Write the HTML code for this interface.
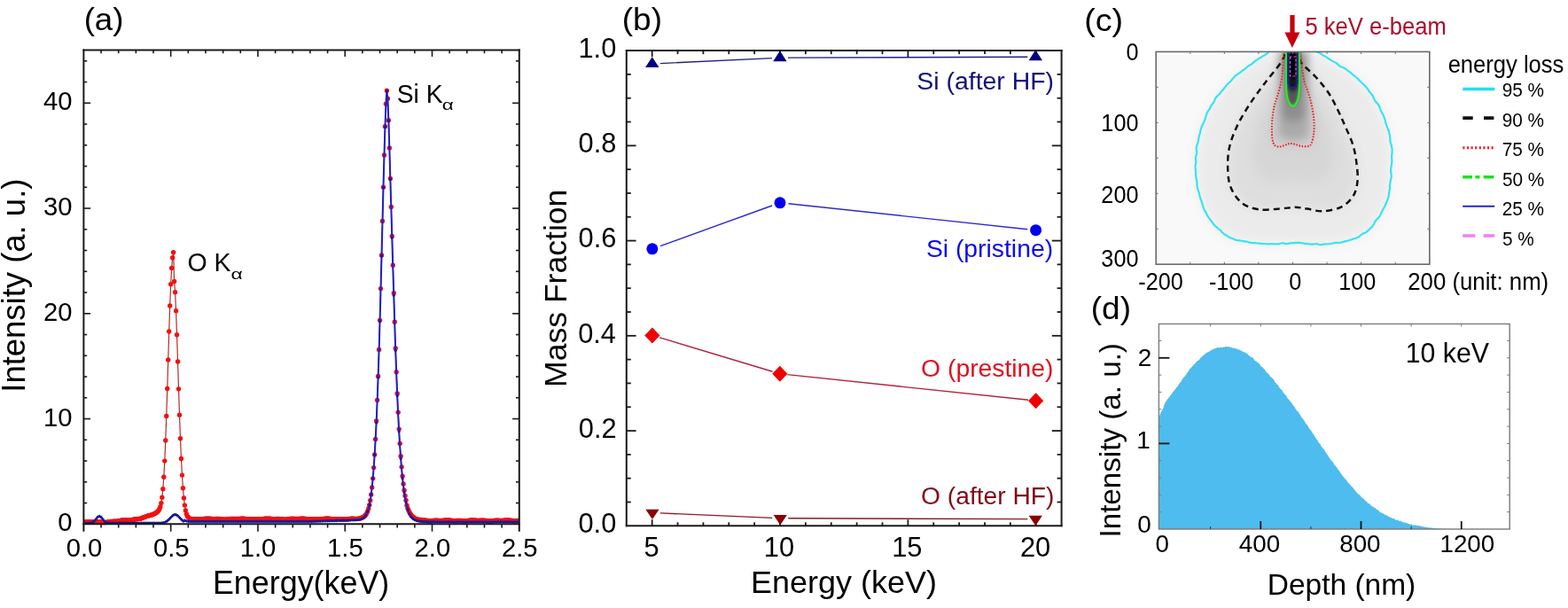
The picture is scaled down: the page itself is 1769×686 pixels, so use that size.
<!DOCTYPE html>
<html><head><meta charset="utf-8"><title>Figure</title>
<style>html,body{margin:0;padding:0;background:#fff;} svg{display:block;} text{font-family:'Liberation Sans', Arial, sans-serif;}</style></head>
<body><svg width="1769" height="686" viewBox="0 0 1769 686">
<rect width="1769" height="686" fill="#fff"/>
<defs>
<clipPath id="clipA"><rect x="94.4" y="56.4" width="491.4" height="536.9"/></clipPath>
<clipPath id="clipC"><rect x="1304.2" y="58.4" width="308.6" height="239.8"/></clipPath>
<filter id="blurC" x="-20%" y="-20%" width="140%" height="140%"><feGaussianBlur stdDeviation="7"/></filter>
<filter id="blurC2" x="-50%" y="-50%" width="200%" height="200%"><feGaussianBlur stdDeviation="2"/></filter>
<filter id="blurC3" x="-50%" y="-50%" width="200%" height="200%"><feGaussianBlur stdDeviation="5"/></filter>
</defs>
<g clip-path="url(#clipA)">
<path d="M94.4,588.92 L95.38,588.92 L96.37,588.92 L97.35,588.92 L98.33,588.92 L99.31,588.92 L100.3,588.77 L101.28,588.85 L102.26,588.95 L103.25,589.02 L104.23,589.07 L105.21,589.08 L106.19,589.05 L107.18,589 L108.16,588.93 L109.14,588.88 L110.12,588.85 L111.11,588.86 L112.09,588.92 L113.07,589.03 L114.06,589.16 L115.04,589.31 L116.02,589.44 L117,589.53 L117.99,589.57 L118.97,589.5 L119.95,589.38 L120.94,589.21 L121.92,589.01 L122.9,588.82 L123.88,588.64 L124.87,588.5 L125.85,588.4 L126.83,588.34 L127.82,588.31 L128.8,588.29 L129.78,588.26 L130.76,588.2 L131.75,588.1 L132.73,587.96 L133.71,587.78 L134.69,587.58 L135.68,587.38 L136.66,587.2 L137.64,587.06 L138.63,586.97 L139.61,586.93 L140.59,586.95 L141.57,586.99 L142.56,587.04 L143.54,587.08 L144.52,587.09 L145.51,587.04 L146.49,586.94 L147.47,586.8 L148.45,586.61 L149.44,586.41 L150.42,586.21 L151.4,586.03 L152.39,585.88 L153.37,585.76 L154.35,585.67 L155.33,585.58 L156.32,585.47 L157.3,585.33 L158.28,585.14 L159.26,584.89 L160.25,584.57 L161.23,584.2 L162.21,583.79 L163.2,583.37 L164.18,582.97 L165.16,582.58 L166.14,582.24 L167.13,581.93 L168.11,581.7 L169.09,581.49 L170.08,581.26 L171.06,580.99 L172.04,580.66 L173.02,580.27 L174.01,579.8 L174.99,579.26 L175.97,578.65 L176.96,577.94 L177.94,577.08 L178.92,575.94 L179.9,574.28 L180.89,571.7 L181.87,567.62 L182.85,561.28 L183.83,551.78 L184.82,538.28 L185.8,520.1 L186.78,497.02 L187.77,469.44 L188.75,438.51 L189.73,405.98 L190.71,374.06 L191.7,345 L192.68,320.75 L193.66,302.57 L194.65,290.82 L195.63,284.82 L196.61,317.48 L197.59,329.65 L198.58,350.69 L199.56,377.74 L200.54,407.98 L201.53,438.85 L202.51,468.27 L203.49,494.76 L204.47,517.47 L205.46,536.09 L206.44,550.76 L207.42,561.91 L208.4,570.09 L209.39,575.9 L210.37,579.9 L211.35,582.57 L212.34,583.57 L213.32,584.62 L214.3,585.23 L215.28,585.53 L216.27,585.66 L217.25,585.68 L218.23,585.67 L219.22,585.65 L220.2,585.65 L221.18,585.68 L222.16,585.74 L223.15,585.81 L224.13,585.88 L225.11,585.92 L226.1,585.93 L227.08,585.88 L228.06,585.79 L229.04,585.65 L230.03,585.5 L231.01,585.34 L231.99,585.21 L232.97,585.13 L233.96,585.1 L234.94,585.12 L235.92,585.2 L236.91,585.31 L237.89,585.42 L238.87,585.53 L239.85,585.6 L240.84,585.64 L241.82,585.63 L242.8,585.6 L243.79,585.54 L244.77,585.5 L245.75,585.47 L246.73,585.48 L247.72,585.54 L248.7,585.63 L249.68,585.76 L250.67,585.89 L251.65,586.01 L252.63,586.1 L253.61,586.13 L254.6,586.11 L255.58,586.03 L256.56,585.91 L257.54,585.76 L258.53,585.62 L259.51,585.49 L260.49,585.41 L261.48,585.37 L262.46,585.38 L263.44,585.42 L264.42,585.48 L265.41,585.53 L266.39,585.57 L267.37,585.57 L268.36,585.53 L269.34,585.46 L270.32,585.36 L271.3,585.27 L272.29,585.19 L273.27,585.16 L274.25,585.17 L275.24,585.24 L276.22,585.36 L277.2,585.51 L278.18,585.67 L279.17,585.82 L280.15,585.94 L281.13,586 L282.11,586.02 L283.1,585.98 L284.08,585.91 L285.06,585.82 L286.05,585.73 L287.03,585.67 L288.01,585.65 L288.99,585.66 L289.98,585.7 L290.96,585.77 L291.94,585.83 L292.93,585.87 L293.91,585.87 L294.89,585.82 L295.87,585.73 L296.86,585.6 L297.84,585.45 L298.82,585.3 L299.81,585.18 L300.79,585.1 L301.77,585.08 L302.75,585.11 L303.74,585.2 L304.72,585.31 L305.7,585.44 L306.68,585.56 L307.67,585.64 L308.65,585.69 L309.63,585.69 L310.62,585.66 L311.6,585.61 L312.58,585.56 L313.56,585.53 L314.55,585.53 L315.53,585.58 L316.51,585.67 L317.5,585.78 L318.48,585.9 L319.46,586.02 L320.44,586.09 L321.43,586.12 L322.41,586.09 L323.39,586 L324.38,585.87 L325.36,585.72 L326.34,585.57 L327.32,585.44 L328.31,585.35 L329.29,585.31 L330.27,585.32 L331.25,585.36 L332.24,585.43 L333.22,585.49 L334.2,585.54 L335.19,585.55 L336.17,585.52 L337.15,585.46 L338.13,585.38 L339.12,585.29 L340.1,585.23 L341.08,585.2 L342.07,585.22 L343.05,585.29 L344.03,585.41 L345.01,585.56 L346,585.73 L346.98,585.87 L347.96,585.99 L348.95,586.05 L349.93,586.06 L350.91,586.01 L351.89,585.93 L352.88,585.83 L353.86,585.73 L354.84,585.66 L355.82,585.62 L356.81,585.62 L357.79,585.66 L358.77,585.71 L359.76,585.77 L360.74,585.81 L361.72,585.81 L362.7,585.77 L363.69,585.68 L364.67,585.55 L365.65,585.41 L366.64,585.27 L367.62,585.15 L368.6,585.08 L369.58,585.07 L370.57,585.11 L371.55,585.21 L372.53,585.33 L373.52,585.47 L374.5,585.59 L375.48,585.69 L376.46,585.74 L377.45,585.75 L378.43,585.72 L379.41,585.67 L380.39,585.62 L381.38,585.58 L382.36,585.58 L383.34,585.62 L384.33,585.69 L385.31,585.8 L386.29,585.91 L387.27,586.01 L388.26,586.07 L389.24,586.09 L390.22,586.05 L391.21,585.96 L392.19,585.82 L393.17,585.67 L394.15,585.51 L395.14,585.38 L396.12,585.28 L397.1,585.24 L398.09,585.24 L399.07,585.28 L400.05,585.34 L401.03,585.39 L402.02,585.41 L403,585.39 L403.98,585.3 L404.96,585.15 L405.95,584.93 L406.93,584.65 L407.91,584.3 L408.9,583.88 L409.88,583.35 L410.86,582.67 L411.84,581.76 L412.83,580.55 L413.81,578.89 L414.79,576.65 L415.78,573.64 L416.76,569.69 L417.74,564.58 L418.72,558.07 L419.71,549.92 L420.69,539.86 L421.67,527.61 L422.66,512.9 L423.64,495.44 L424.62,475.01 L425.6,451.41 L426.59,424.54 L427.57,394.45 L428.55,361.34 L429.53,325.62 L430.52,287.98 L431.5,249.4 L432.48,211.17 L433.47,174.96 L434.45,142.8 L435.43,117.3 L436.41,102.26 L437.4,111.24 L438.38,135.8 L439.36,166.9 L440.35,201.48 L441.33,233.57 L442.31,266.55 L443.29,299.26 L444.28,330.82 L445.26,363.19 L446.24,392.9 L447.23,419.8 L448.21,443.91 L449.19,465.29 L450.17,484.09 L451.16,500.48 L452.14,514.66 L453.12,526.84 L454.1,537.22 L455.09,545.98 L456.07,553.3 L457.05,559.37 L458.04,564.34 L459.02,570.15 L460,573.4 L460.98,576 L461.97,578.08 L462.95,579.76 L463.93,581.13 L464.92,582.26 L465.9,583.21 L466.88,584.02 L467.86,584.69 L468.85,585.25 L469.83,585.7 L470.81,586.04 L471.8,586.27 L472.78,586.43 L473.76,586.52 L474.74,586.57 L475.73,586.61 L476.71,586.67 L477.69,586.76 L478.67,586.89 L479.66,587.05 L480.64,587.23 L481.62,587.41 L482.61,587.57 L483.59,587.7 L484.57,587.76 L485.55,587.77 L486.54,587.72 L487.52,587.63 L488.5,587.52 L489.49,587.41 L490.47,587.32 L491.45,587.27 L492.43,587.26 L493.42,587.28 L494.4,587.33 L495.38,587.39 L496.37,587.43 L497.35,587.44 L498.33,587.42 L499.31,587.35 L500.3,587.24 L501.28,587.12 L502.26,587 L503.24,586.9 L504.23,586.85 L505.21,586.86 L506.19,586.92 L507.18,587.03 L508.16,587.17 L509.14,587.33 L510.12,587.47 L511.11,587.57 L512.09,587.64 L513.07,587.65 L514.06,587.62 L515.04,587.56 L516.02,587.5 L517,587.45 L517.99,587.42 L518.97,587.44 L519.95,587.49 L520.94,587.57 L521.92,587.66 L522.9,587.74 L523.88,587.79 L524.87,587.79 L525.85,587.74 L526.83,587.64 L527.81,587.5 L528.8,587.34 L529.78,587.19 L530.76,587.05 L531.75,586.97 L532.73,586.93 L533.71,586.96 L534.69,587.02 L535.68,587.11 L536.66,587.21 L537.64,587.29 L538.63,587.34 L539.61,587.35 L540.59,587.33 L541.57,587.28 L542.56,587.22 L543.54,587.17 L544.52,587.15 L545.51,587.17 L546.49,587.24 L547.47,587.35 L548.45,587.5 L549.44,587.64 L550.42,587.77 L551.4,587.87 L552.38,587.91 L553.37,587.89 L554.35,587.82 L555.33,587.71 L556.32,587.58 L557.3,587.45 L558.28,587.34 L559.26,587.28 L560.25,587.25 L561.23,587.27 L562.21,587.31 L563.2,587.36 L564.18,587.4 L565.16,587.42 L566.14,587.4 L567.13,587.33 L568.11,587.24 L569.09,587.12 L570.08,587.01 L571.06,586.93 L572.04,586.88 L573.02,586.89 L574.01,586.96 L574.99,587.08 L575.97,587.23 L576.95,587.38 L577.94,587.53 L578.92,587.64 L579.9,587.7 L580.89,587.71 L581.87,587.68 L582.85,587.62 L583.83,587.54 L584.82,587.48 L585.8,587.44" fill="none" stroke="#b32a2a" stroke-width="1.2"/>
<g fill="#f21010"><circle cx="94.4" cy="588.92" r="2.7"/><circle cx="95.38" cy="588.92" r="2.7"/><circle cx="96.37" cy="588.92" r="2.7"/><circle cx="97.35" cy="588.92" r="2.7"/><circle cx="98.33" cy="588.92" r="2.7"/><circle cx="99.31" cy="588.92" r="2.7"/><circle cx="100.3" cy="588.77" r="2.7"/><circle cx="101.28" cy="588.85" r="2.7"/><circle cx="102.26" cy="588.95" r="2.7"/><circle cx="103.25" cy="589.02" r="2.7"/><circle cx="104.23" cy="589.07" r="2.7"/><circle cx="105.21" cy="589.08" r="2.7"/><circle cx="106.19" cy="589.05" r="2.7"/><circle cx="107.18" cy="589" r="2.7"/><circle cx="108.16" cy="588.93" r="2.7"/><circle cx="109.14" cy="588.88" r="2.7"/><circle cx="110.12" cy="588.85" r="2.7"/><circle cx="111.11" cy="588.86" r="2.7"/><circle cx="112.09" cy="588.92" r="2.7"/><circle cx="113.07" cy="589.03" r="2.7"/><circle cx="114.06" cy="589.16" r="2.7"/><circle cx="115.04" cy="589.31" r="2.7"/><circle cx="116.02" cy="589.44" r="2.7"/><circle cx="117" cy="589.53" r="2.7"/><circle cx="117.99" cy="589.57" r="2.7"/><circle cx="118.97" cy="589.5" r="2.7"/><circle cx="119.95" cy="589.38" r="2.7"/><circle cx="120.94" cy="589.21" r="2.7"/><circle cx="121.92" cy="589.01" r="2.7"/><circle cx="122.9" cy="588.82" r="2.7"/><circle cx="123.88" cy="588.64" r="2.7"/><circle cx="124.87" cy="588.5" r="2.7"/><circle cx="125.85" cy="588.4" r="2.7"/><circle cx="126.83" cy="588.34" r="2.7"/><circle cx="127.82" cy="588.31" r="2.7"/><circle cx="128.8" cy="588.29" r="2.7"/><circle cx="129.78" cy="588.26" r="2.7"/><circle cx="130.76" cy="588.2" r="2.7"/><circle cx="131.75" cy="588.1" r="2.7"/><circle cx="132.73" cy="587.96" r="2.7"/><circle cx="133.71" cy="587.78" r="2.7"/><circle cx="134.69" cy="587.58" r="2.7"/><circle cx="135.68" cy="587.38" r="2.7"/><circle cx="136.66" cy="587.2" r="2.7"/><circle cx="137.64" cy="587.06" r="2.7"/><circle cx="138.63" cy="586.97" r="2.7"/><circle cx="139.61" cy="586.93" r="2.7"/><circle cx="140.59" cy="586.95" r="2.7"/><circle cx="141.57" cy="586.99" r="2.7"/><circle cx="142.56" cy="587.04" r="2.7"/><circle cx="143.54" cy="587.08" r="2.7"/><circle cx="144.52" cy="587.09" r="2.7"/><circle cx="145.51" cy="587.04" r="2.7"/><circle cx="146.49" cy="586.94" r="2.7"/><circle cx="147.47" cy="586.8" r="2.7"/><circle cx="148.45" cy="586.61" r="2.7"/><circle cx="149.44" cy="586.41" r="2.7"/><circle cx="150.42" cy="586.21" r="2.7"/><circle cx="151.4" cy="586.03" r="2.7"/><circle cx="152.39" cy="585.88" r="2.7"/><circle cx="153.37" cy="585.76" r="2.7"/><circle cx="154.35" cy="585.67" r="2.7"/><circle cx="155.33" cy="585.58" r="2.7"/><circle cx="156.32" cy="585.47" r="2.7"/><circle cx="157.3" cy="585.33" r="2.7"/><circle cx="158.28" cy="585.14" r="2.7"/><circle cx="159.26" cy="584.89" r="2.7"/><circle cx="160.25" cy="584.57" r="2.7"/><circle cx="161.23" cy="584.2" r="2.7"/><circle cx="162.21" cy="583.79" r="2.7"/><circle cx="163.2" cy="583.37" r="2.7"/><circle cx="164.18" cy="582.97" r="2.7"/><circle cx="165.16" cy="582.58" r="2.7"/><circle cx="166.14" cy="582.24" r="2.7"/><circle cx="167.13" cy="581.93" r="2.7"/><circle cx="168.11" cy="581.7" r="2.7"/><circle cx="169.09" cy="581.49" r="2.7"/><circle cx="170.08" cy="581.26" r="2.7"/><circle cx="171.06" cy="580.99" r="2.7"/><circle cx="172.04" cy="580.66" r="2.7"/><circle cx="173.02" cy="580.27" r="2.7"/><circle cx="174.01" cy="579.8" r="2.7"/><circle cx="174.99" cy="579.26" r="2.7"/><circle cx="175.97" cy="578.65" r="2.7"/><circle cx="176.96" cy="577.94" r="2.7"/><circle cx="177.94" cy="577.08" r="2.7"/><circle cx="178.92" cy="575.94" r="2.7"/><circle cx="179.9" cy="574.28" r="2.7"/><circle cx="180.89" cy="571.7" r="2.7"/><circle cx="181.87" cy="567.62" r="2.7"/><circle cx="182.85" cy="561.28" r="2.7"/><circle cx="183.83" cy="551.78" r="2.7"/><circle cx="184.82" cy="538.28" r="2.7"/><circle cx="185.8" cy="520.1" r="2.7"/><circle cx="186.78" cy="497.02" r="2.7"/><circle cx="187.77" cy="469.44" r="2.7"/><circle cx="188.75" cy="438.51" r="2.7"/><circle cx="189.73" cy="405.98" r="2.7"/><circle cx="190.71" cy="374.06" r="2.7"/><circle cx="191.7" cy="345" r="2.7"/><circle cx="192.68" cy="320.75" r="2.7"/><circle cx="193.66" cy="302.57" r="2.7"/><circle cx="194.65" cy="290.82" r="2.7"/><circle cx="195.63" cy="284.82" r="2.7"/><circle cx="196.61" cy="317.48" r="2.7"/><circle cx="197.59" cy="329.65" r="2.7"/><circle cx="198.58" cy="350.69" r="2.7"/><circle cx="199.56" cy="377.74" r="2.7"/><circle cx="200.54" cy="407.98" r="2.7"/><circle cx="201.53" cy="438.85" r="2.7"/><circle cx="202.51" cy="468.27" r="2.7"/><circle cx="203.49" cy="494.76" r="2.7"/><circle cx="204.47" cy="517.47" r="2.7"/><circle cx="205.46" cy="536.09" r="2.7"/><circle cx="206.44" cy="550.76" r="2.7"/><circle cx="207.42" cy="561.91" r="2.7"/><circle cx="208.4" cy="570.09" r="2.7"/><circle cx="209.39" cy="575.9" r="2.7"/><circle cx="210.37" cy="579.9" r="2.7"/><circle cx="211.35" cy="582.57" r="2.7"/><circle cx="212.34" cy="583.57" r="2.7"/><circle cx="213.32" cy="584.62" r="2.7"/><circle cx="214.3" cy="585.23" r="2.7"/><circle cx="215.28" cy="585.53" r="2.7"/><circle cx="216.27" cy="585.66" r="2.7"/><circle cx="217.25" cy="585.68" r="2.7"/><circle cx="218.23" cy="585.67" r="2.7"/><circle cx="219.22" cy="585.65" r="2.7"/><circle cx="220.2" cy="585.65" r="2.7"/><circle cx="221.18" cy="585.68" r="2.7"/><circle cx="222.16" cy="585.74" r="2.7"/><circle cx="223.15" cy="585.81" r="2.7"/><circle cx="224.13" cy="585.88" r="2.7"/><circle cx="225.11" cy="585.92" r="2.7"/><circle cx="226.1" cy="585.93" r="2.7"/><circle cx="227.08" cy="585.88" r="2.7"/><circle cx="228.06" cy="585.79" r="2.7"/><circle cx="229.04" cy="585.65" r="2.7"/><circle cx="230.03" cy="585.5" r="2.7"/><circle cx="231.01" cy="585.34" r="2.7"/><circle cx="231.99" cy="585.21" r="2.7"/><circle cx="232.97" cy="585.13" r="2.7"/><circle cx="233.96" cy="585.1" r="2.7"/><circle cx="234.94" cy="585.12" r="2.7"/><circle cx="235.92" cy="585.2" r="2.7"/><circle cx="236.91" cy="585.31" r="2.7"/><circle cx="237.89" cy="585.42" r="2.7"/><circle cx="238.87" cy="585.53" r="2.7"/><circle cx="239.85" cy="585.6" r="2.7"/><circle cx="240.84" cy="585.64" r="2.7"/><circle cx="241.82" cy="585.63" r="2.7"/><circle cx="242.8" cy="585.6" r="2.7"/><circle cx="243.79" cy="585.54" r="2.7"/><circle cx="244.77" cy="585.5" r="2.7"/><circle cx="245.75" cy="585.47" r="2.7"/><circle cx="246.73" cy="585.48" r="2.7"/><circle cx="247.72" cy="585.54" r="2.7"/><circle cx="248.7" cy="585.63" r="2.7"/><circle cx="249.68" cy="585.76" r="2.7"/><circle cx="250.67" cy="585.89" r="2.7"/><circle cx="251.65" cy="586.01" r="2.7"/><circle cx="252.63" cy="586.1" r="2.7"/><circle cx="253.61" cy="586.13" r="2.7"/><circle cx="254.6" cy="586.11" r="2.7"/><circle cx="255.58" cy="586.03" r="2.7"/><circle cx="256.56" cy="585.91" r="2.7"/><circle cx="257.54" cy="585.76" r="2.7"/><circle cx="258.53" cy="585.62" r="2.7"/><circle cx="259.51" cy="585.49" r="2.7"/><circle cx="260.49" cy="585.41" r="2.7"/><circle cx="261.48" cy="585.37" r="2.7"/><circle cx="262.46" cy="585.38" r="2.7"/><circle cx="263.44" cy="585.42" r="2.7"/><circle cx="264.42" cy="585.48" r="2.7"/><circle cx="265.41" cy="585.53" r="2.7"/><circle cx="266.39" cy="585.57" r="2.7"/><circle cx="267.37" cy="585.57" r="2.7"/><circle cx="268.36" cy="585.53" r="2.7"/><circle cx="269.34" cy="585.46" r="2.7"/><circle cx="270.32" cy="585.36" r="2.7"/><circle cx="271.3" cy="585.27" r="2.7"/><circle cx="272.29" cy="585.19" r="2.7"/><circle cx="273.27" cy="585.16" r="2.7"/><circle cx="274.25" cy="585.17" r="2.7"/><circle cx="275.24" cy="585.24" r="2.7"/><circle cx="276.22" cy="585.36" r="2.7"/><circle cx="277.2" cy="585.51" r="2.7"/><circle cx="278.18" cy="585.67" r="2.7"/><circle cx="279.17" cy="585.82" r="2.7"/><circle cx="280.15" cy="585.94" r="2.7"/><circle cx="281.13" cy="586" r="2.7"/><circle cx="282.11" cy="586.02" r="2.7"/><circle cx="283.1" cy="585.98" r="2.7"/><circle cx="284.08" cy="585.91" r="2.7"/><circle cx="285.06" cy="585.82" r="2.7"/><circle cx="286.05" cy="585.73" r="2.7"/><circle cx="287.03" cy="585.67" r="2.7"/><circle cx="288.01" cy="585.65" r="2.7"/><circle cx="288.99" cy="585.66" r="2.7"/><circle cx="289.98" cy="585.7" r="2.7"/><circle cx="290.96" cy="585.77" r="2.7"/><circle cx="291.94" cy="585.83" r="2.7"/><circle cx="292.93" cy="585.87" r="2.7"/><circle cx="293.91" cy="585.87" r="2.7"/><circle cx="294.89" cy="585.82" r="2.7"/><circle cx="295.87" cy="585.73" r="2.7"/><circle cx="296.86" cy="585.6" r="2.7"/><circle cx="297.84" cy="585.45" r="2.7"/><circle cx="298.82" cy="585.3" r="2.7"/><circle cx="299.81" cy="585.18" r="2.7"/><circle cx="300.79" cy="585.1" r="2.7"/><circle cx="301.77" cy="585.08" r="2.7"/><circle cx="302.75" cy="585.11" r="2.7"/><circle cx="303.74" cy="585.2" r="2.7"/><circle cx="304.72" cy="585.31" r="2.7"/><circle cx="305.7" cy="585.44" r="2.7"/><circle cx="306.68" cy="585.56" r="2.7"/><circle cx="307.67" cy="585.64" r="2.7"/><circle cx="308.65" cy="585.69" r="2.7"/><circle cx="309.63" cy="585.69" r="2.7"/><circle cx="310.62" cy="585.66" r="2.7"/><circle cx="311.6" cy="585.61" r="2.7"/><circle cx="312.58" cy="585.56" r="2.7"/><circle cx="313.56" cy="585.53" r="2.7"/><circle cx="314.55" cy="585.53" r="2.7"/><circle cx="315.53" cy="585.58" r="2.7"/><circle cx="316.51" cy="585.67" r="2.7"/><circle cx="317.5" cy="585.78" r="2.7"/><circle cx="318.48" cy="585.9" r="2.7"/><circle cx="319.46" cy="586.02" r="2.7"/><circle cx="320.44" cy="586.09" r="2.7"/><circle cx="321.43" cy="586.12" r="2.7"/><circle cx="322.41" cy="586.09" r="2.7"/><circle cx="323.39" cy="586" r="2.7"/><circle cx="324.38" cy="585.87" r="2.7"/><circle cx="325.36" cy="585.72" r="2.7"/><circle cx="326.34" cy="585.57" r="2.7"/><circle cx="327.32" cy="585.44" r="2.7"/><circle cx="328.31" cy="585.35" r="2.7"/><circle cx="329.29" cy="585.31" r="2.7"/><circle cx="330.27" cy="585.32" r="2.7"/><circle cx="331.25" cy="585.36" r="2.7"/><circle cx="332.24" cy="585.43" r="2.7"/><circle cx="333.22" cy="585.49" r="2.7"/><circle cx="334.2" cy="585.54" r="2.7"/><circle cx="335.19" cy="585.55" r="2.7"/><circle cx="336.17" cy="585.52" r="2.7"/><circle cx="337.15" cy="585.46" r="2.7"/><circle cx="338.13" cy="585.38" r="2.7"/><circle cx="339.12" cy="585.29" r="2.7"/><circle cx="340.1" cy="585.23" r="2.7"/><circle cx="341.08" cy="585.2" r="2.7"/><circle cx="342.07" cy="585.22" r="2.7"/><circle cx="343.05" cy="585.29" r="2.7"/><circle cx="344.03" cy="585.41" r="2.7"/><circle cx="345.01" cy="585.56" r="2.7"/><circle cx="346" cy="585.73" r="2.7"/><circle cx="346.98" cy="585.87" r="2.7"/><circle cx="347.96" cy="585.99" r="2.7"/><circle cx="348.95" cy="586.05" r="2.7"/><circle cx="349.93" cy="586.06" r="2.7"/><circle cx="350.91" cy="586.01" r="2.7"/><circle cx="351.89" cy="585.93" r="2.7"/><circle cx="352.88" cy="585.83" r="2.7"/><circle cx="353.86" cy="585.73" r="2.7"/><circle cx="354.84" cy="585.66" r="2.7"/><circle cx="355.82" cy="585.62" r="2.7"/><circle cx="356.81" cy="585.62" r="2.7"/><circle cx="357.79" cy="585.66" r="2.7"/><circle cx="358.77" cy="585.71" r="2.7"/><circle cx="359.76" cy="585.77" r="2.7"/><circle cx="360.74" cy="585.81" r="2.7"/><circle cx="361.72" cy="585.81" r="2.7"/><circle cx="362.7" cy="585.77" r="2.7"/><circle cx="363.69" cy="585.68" r="2.7"/><circle cx="364.67" cy="585.55" r="2.7"/><circle cx="365.65" cy="585.41" r="2.7"/><circle cx="366.64" cy="585.27" r="2.7"/><circle cx="367.62" cy="585.15" r="2.7"/><circle cx="368.6" cy="585.08" r="2.7"/><circle cx="369.58" cy="585.07" r="2.7"/><circle cx="370.57" cy="585.11" r="2.7"/><circle cx="371.55" cy="585.21" r="2.7"/><circle cx="372.53" cy="585.33" r="2.7"/><circle cx="373.52" cy="585.47" r="2.7"/><circle cx="374.5" cy="585.59" r="2.7"/><circle cx="375.48" cy="585.69" r="2.7"/><circle cx="376.46" cy="585.74" r="2.7"/><circle cx="377.45" cy="585.75" r="2.7"/><circle cx="378.43" cy="585.72" r="2.7"/><circle cx="379.41" cy="585.67" r="2.7"/><circle cx="380.39" cy="585.62" r="2.7"/><circle cx="381.38" cy="585.58" r="2.7"/><circle cx="382.36" cy="585.58" r="2.7"/><circle cx="383.34" cy="585.62" r="2.7"/><circle cx="384.33" cy="585.69" r="2.7"/><circle cx="385.31" cy="585.8" r="2.7"/><circle cx="386.29" cy="585.91" r="2.7"/><circle cx="387.27" cy="586.01" r="2.7"/><circle cx="388.26" cy="586.07" r="2.7"/><circle cx="389.24" cy="586.09" r="2.7"/><circle cx="390.22" cy="586.05" r="2.7"/><circle cx="391.21" cy="585.96" r="2.7"/><circle cx="392.19" cy="585.82" r="2.7"/><circle cx="393.17" cy="585.67" r="2.7"/><circle cx="394.15" cy="585.51" r="2.7"/><circle cx="395.14" cy="585.38" r="2.7"/><circle cx="396.12" cy="585.28" r="2.7"/><circle cx="397.1" cy="585.24" r="2.7"/><circle cx="398.09" cy="585.24" r="2.7"/><circle cx="399.07" cy="585.28" r="2.7"/><circle cx="400.05" cy="585.34" r="2.7"/><circle cx="401.03" cy="585.39" r="2.7"/><circle cx="402.02" cy="585.41" r="2.7"/><circle cx="403" cy="585.39" r="2.7"/><circle cx="403.98" cy="585.3" r="2.7"/><circle cx="404.96" cy="585.15" r="2.7"/><circle cx="405.95" cy="584.93" r="2.7"/><circle cx="406.93" cy="584.65" r="2.7"/><circle cx="407.91" cy="584.3" r="2.7"/><circle cx="408.9" cy="583.88" r="2.7"/><circle cx="409.88" cy="583.35" r="2.7"/><circle cx="410.86" cy="582.67" r="2.7"/><circle cx="411.84" cy="581.76" r="2.7"/><circle cx="412.83" cy="580.55" r="2.7"/><circle cx="413.81" cy="578.89" r="2.7"/><circle cx="414.79" cy="576.65" r="2.7"/><circle cx="415.78" cy="573.64" r="2.7"/><circle cx="416.76" cy="569.69" r="2.7"/><circle cx="417.74" cy="564.58" r="2.7"/><circle cx="418.72" cy="558.07" r="2.7"/><circle cx="419.71" cy="549.92" r="2.7"/><circle cx="420.69" cy="539.86" r="2.7"/><circle cx="421.67" cy="527.61" r="2.7"/><circle cx="422.66" cy="512.9" r="2.7"/><circle cx="423.64" cy="495.44" r="2.7"/><circle cx="424.62" cy="475.01" r="2.7"/><circle cx="425.6" cy="451.41" r="2.7"/><circle cx="426.59" cy="424.54" r="2.7"/><circle cx="427.57" cy="394.45" r="2.7"/><circle cx="428.55" cy="361.34" r="2.7"/><circle cx="429.53" cy="325.62" r="2.7"/><circle cx="430.52" cy="287.98" r="2.7"/><circle cx="431.5" cy="249.4" r="2.7"/><circle cx="432.48" cy="211.17" r="2.7"/><circle cx="433.47" cy="174.96" r="2.7"/><circle cx="434.45" cy="142.8" r="2.7"/><circle cx="435.43" cy="117.3" r="2.7"/><circle cx="436.41" cy="102.26" r="2.7"/><circle cx="437.4" cy="111.24" r="2.7"/><circle cx="438.38" cy="135.8" r="2.7"/><circle cx="439.36" cy="166.9" r="2.7"/><circle cx="440.35" cy="201.48" r="2.7"/><circle cx="441.33" cy="233.57" r="2.7"/><circle cx="442.31" cy="266.55" r="2.7"/><circle cx="443.29" cy="299.26" r="2.7"/><circle cx="444.28" cy="330.82" r="2.7"/><circle cx="445.26" cy="363.19" r="2.7"/><circle cx="446.24" cy="392.9" r="2.7"/><circle cx="447.23" cy="419.8" r="2.7"/><circle cx="448.21" cy="443.91" r="2.7"/><circle cx="449.19" cy="465.29" r="2.7"/><circle cx="450.17" cy="484.09" r="2.7"/><circle cx="451.16" cy="500.48" r="2.7"/><circle cx="452.14" cy="514.66" r="2.7"/><circle cx="453.12" cy="526.84" r="2.7"/><circle cx="454.1" cy="537.22" r="2.7"/><circle cx="455.09" cy="545.98" r="2.7"/><circle cx="456.07" cy="553.3" r="2.7"/><circle cx="457.05" cy="559.37" r="2.7"/><circle cx="458.04" cy="564.34" r="2.7"/><circle cx="459.02" cy="570.15" r="2.7"/><circle cx="460" cy="573.4" r="2.7"/><circle cx="460.98" cy="576" r="2.7"/><circle cx="461.97" cy="578.08" r="2.7"/><circle cx="462.95" cy="579.76" r="2.7"/><circle cx="463.93" cy="581.13" r="2.7"/><circle cx="464.92" cy="582.26" r="2.7"/><circle cx="465.9" cy="583.21" r="2.7"/><circle cx="466.88" cy="584.02" r="2.7"/><circle cx="467.86" cy="584.69" r="2.7"/><circle cx="468.85" cy="585.25" r="2.7"/><circle cx="469.83" cy="585.7" r="2.7"/><circle cx="470.81" cy="586.04" r="2.7"/><circle cx="471.8" cy="586.27" r="2.7"/><circle cx="472.78" cy="586.43" r="2.7"/><circle cx="473.76" cy="586.52" r="2.7"/><circle cx="474.74" cy="586.57" r="2.7"/><circle cx="475.73" cy="586.61" r="2.7"/><circle cx="476.71" cy="586.67" r="2.7"/><circle cx="477.69" cy="586.76" r="2.7"/><circle cx="478.67" cy="586.89" r="2.7"/><circle cx="479.66" cy="587.05" r="2.7"/><circle cx="480.64" cy="587.23" r="2.7"/><circle cx="481.62" cy="587.41" r="2.7"/><circle cx="482.61" cy="587.57" r="2.7"/><circle cx="483.59" cy="587.7" r="2.7"/><circle cx="484.57" cy="587.76" r="2.7"/><circle cx="485.55" cy="587.77" r="2.7"/><circle cx="486.54" cy="587.72" r="2.7"/><circle cx="487.52" cy="587.63" r="2.7"/><circle cx="488.5" cy="587.52" r="2.7"/><circle cx="489.49" cy="587.41" r="2.7"/><circle cx="490.47" cy="587.32" r="2.7"/><circle cx="491.45" cy="587.27" r="2.7"/><circle cx="492.43" cy="587.26" r="2.7"/><circle cx="493.42" cy="587.28" r="2.7"/><circle cx="494.4" cy="587.33" r="2.7"/><circle cx="495.38" cy="587.39" r="2.7"/><circle cx="496.37" cy="587.43" r="2.7"/><circle cx="497.35" cy="587.44" r="2.7"/><circle cx="498.33" cy="587.42" r="2.7"/><circle cx="499.31" cy="587.35" r="2.7"/><circle cx="500.3" cy="587.24" r="2.7"/><circle cx="501.28" cy="587.12" r="2.7"/><circle cx="502.26" cy="587" r="2.7"/><circle cx="503.24" cy="586.9" r="2.7"/><circle cx="504.23" cy="586.85" r="2.7"/><circle cx="505.21" cy="586.86" r="2.7"/><circle cx="506.19" cy="586.92" r="2.7"/><circle cx="507.18" cy="587.03" r="2.7"/><circle cx="508.16" cy="587.17" r="2.7"/><circle cx="509.14" cy="587.33" r="2.7"/><circle cx="510.12" cy="587.47" r="2.7"/><circle cx="511.11" cy="587.57" r="2.7"/><circle cx="512.09" cy="587.64" r="2.7"/><circle cx="513.07" cy="587.65" r="2.7"/><circle cx="514.06" cy="587.62" r="2.7"/><circle cx="515.04" cy="587.56" r="2.7"/><circle cx="516.02" cy="587.5" r="2.7"/><circle cx="517" cy="587.45" r="2.7"/><circle cx="517.99" cy="587.42" r="2.7"/><circle cx="518.97" cy="587.44" r="2.7"/><circle cx="519.95" cy="587.49" r="2.7"/><circle cx="520.94" cy="587.57" r="2.7"/><circle cx="521.92" cy="587.66" r="2.7"/><circle cx="522.9" cy="587.74" r="2.7"/><circle cx="523.88" cy="587.79" r="2.7"/><circle cx="524.87" cy="587.79" r="2.7"/><circle cx="525.85" cy="587.74" r="2.7"/><circle cx="526.83" cy="587.64" r="2.7"/><circle cx="527.81" cy="587.5" r="2.7"/><circle cx="528.8" cy="587.34" r="2.7"/><circle cx="529.78" cy="587.19" r="2.7"/><circle cx="530.76" cy="587.05" r="2.7"/><circle cx="531.75" cy="586.97" r="2.7"/><circle cx="532.73" cy="586.93" r="2.7"/><circle cx="533.71" cy="586.96" r="2.7"/><circle cx="534.69" cy="587.02" r="2.7"/><circle cx="535.68" cy="587.11" r="2.7"/><circle cx="536.66" cy="587.21" r="2.7"/><circle cx="537.64" cy="587.29" r="2.7"/><circle cx="538.63" cy="587.34" r="2.7"/><circle cx="539.61" cy="587.35" r="2.7"/><circle cx="540.59" cy="587.33" r="2.7"/><circle cx="541.57" cy="587.28" r="2.7"/><circle cx="542.56" cy="587.22" r="2.7"/><circle cx="543.54" cy="587.17" r="2.7"/><circle cx="544.52" cy="587.15" r="2.7"/><circle cx="545.51" cy="587.17" r="2.7"/><circle cx="546.49" cy="587.24" r="2.7"/><circle cx="547.47" cy="587.35" r="2.7"/><circle cx="548.45" cy="587.5" r="2.7"/><circle cx="549.44" cy="587.64" r="2.7"/><circle cx="550.42" cy="587.77" r="2.7"/><circle cx="551.4" cy="587.87" r="2.7"/><circle cx="552.38" cy="587.91" r="2.7"/><circle cx="553.37" cy="587.89" r="2.7"/><circle cx="554.35" cy="587.82" r="2.7"/><circle cx="555.33" cy="587.71" r="2.7"/><circle cx="556.32" cy="587.58" r="2.7"/><circle cx="557.3" cy="587.45" r="2.7"/><circle cx="558.28" cy="587.34" r="2.7"/><circle cx="559.26" cy="587.28" r="2.7"/><circle cx="560.25" cy="587.25" r="2.7"/><circle cx="561.23" cy="587.27" r="2.7"/><circle cx="562.21" cy="587.31" r="2.7"/><circle cx="563.2" cy="587.36" r="2.7"/><circle cx="564.18" cy="587.4" r="2.7"/><circle cx="565.16" cy="587.42" r="2.7"/><circle cx="566.14" cy="587.4" r="2.7"/><circle cx="567.13" cy="587.33" r="2.7"/><circle cx="568.11" cy="587.24" r="2.7"/><circle cx="569.09" cy="587.12" r="2.7"/><circle cx="570.08" cy="587.01" r="2.7"/><circle cx="571.06" cy="586.93" r="2.7"/><circle cx="572.04" cy="586.88" r="2.7"/><circle cx="573.02" cy="586.89" r="2.7"/><circle cx="574.01" cy="586.96" r="2.7"/><circle cx="574.99" cy="587.08" r="2.7"/><circle cx="575.97" cy="587.23" r="2.7"/><circle cx="576.95" cy="587.38" r="2.7"/><circle cx="577.94" cy="587.53" r="2.7"/><circle cx="578.92" cy="587.64" r="2.7"/><circle cx="579.9" cy="587.7" r="2.7"/><circle cx="580.89" cy="587.71" r="2.7"/><circle cx="581.87" cy="587.68" r="2.7"/><circle cx="582.85" cy="587.62" r="2.7"/><circle cx="583.83" cy="587.54" r="2.7"/><circle cx="584.82" cy="587.48" r="2.7"/><circle cx="585.8" cy="587.44" r="2.7"/></g>
<path d="M94.4,590.11 L95.38,590.11 L96.37,590.11 L97.35,590.11 L98.33,590.11 L99.31,590.1 L100.3,590.08 L101.28,590.04 L102.26,589.95 L103.25,589.77 L104.23,589.46 L105.21,588.95 L106.19,588.19 L107.18,587.17 L108.16,585.95 L109.14,584.66 L110.12,583.5 L111.11,582.69 L112.09,582.39 L113.07,582.69 L114.06,583.5 L115.04,584.66 L116.02,585.95 L117,587.17 L117.99,588.19 L118.97,588.95 L119.95,589.46 L120.94,589.77 L121.92,589.95 L122.9,590.04 L123.88,590.08 L124.87,590.1 L125.85,590.11 L126.83,590.11 L127.82,590.11 L128.8,590.11 L129.78,590.11 L130.76,590.11 L131.75,590.11 L132.73,590.11 L133.71,590.11 L134.69,590.11 L135.68,590.11 L136.66,590.11 L137.64,590.11 L138.63,590.11 L139.61,590.11 L140.59,590.11 L141.57,590.11 L142.56,590.11 L143.54,590.11 L144.52,590.11 L145.51,590.11 L146.49,590.11 L147.47,590.11 L148.45,590.11 L149.44,590.11 L150.42,590.11 L151.4,590.11 L152.39,590.11 L153.37,590.11 L154.35,590.11 L155.33,590.11 L156.32,590.11 L157.3,590.11 L158.28,590.11 L159.26,590.11 L160.25,590.11 L161.23,590.11 L162.21,590.11 L163.2,590.11 L164.18,590.11 L165.16,590.11 L166.14,590.11 L167.13,590.11 L168.11,590.11 L169.09,590.11 L170.08,590.11 L171.06,590.11 L172.04,590.11 L173.02,590.11 L174.01,590.11 L174.99,590.11 L175.97,590.11 L176.96,590.11 L177.94,590.1 L178.92,590.09 L179.9,590.08 L180.89,590.05 L181.87,590 L182.85,589.91 L183.83,589.78 L184.82,589.59 L185.8,589.31 L186.78,588.92 L187.77,588.41 L188.75,587.75 L189.73,586.95 L190.71,586.02 L191.7,584.99 L192.68,583.93 L193.66,582.89 L194.65,581.97 L195.63,581.24 L196.61,580.77 L197.59,580.61 L198.58,580.77 L199.56,581.24 L200.54,581.97 L201.53,582.89 L202.51,583.93 L203.49,584.99 L204.47,586.02 L205.46,586.95 L206.44,587.75 L207.42,588.41 L208.4,587.26 L209.39,587.65 L210.37,587.93 L211.35,588.12 L212.34,588.25 L213.32,588.33 L214.3,588.38 L215.28,588.41 L216.27,588.43 L217.25,588.44 L218.23,588.45 L219.22,588.45 L220.2,588.45 L221.18,588.45 L222.16,588.45 L223.15,588.45 L224.13,588.45 L225.11,588.45 L226.1,588.45 L227.08,588.45 L228.06,588.45 L229.04,588.45 L230.03,588.45 L231.01,588.45 L231.99,588.45 L232.97,588.45 L233.96,588.45 L234.94,588.45 L235.92,588.45 L236.91,588.45 L237.89,588.45 L238.87,588.45 L239.85,588.45 L240.84,588.45 L241.82,588.45 L242.8,588.45 L243.79,588.45 L244.77,588.45 L245.75,588.45 L246.73,588.45 L247.72,588.45 L248.7,588.45 L249.68,588.45 L250.67,588.45 L251.65,588.45 L252.63,588.45 L253.61,588.45 L254.6,588.45 L255.58,588.45 L256.56,588.45 L257.54,588.45 L258.53,588.45 L259.51,588.45 L260.49,588.45 L261.48,588.45 L262.46,588.45 L263.44,588.45 L264.42,588.45 L265.41,588.45 L266.39,588.45 L267.37,588.45 L268.36,588.45 L269.34,588.45 L270.32,588.45 L271.3,588.45 L272.29,588.45 L273.27,588.45 L274.25,588.45 L275.24,588.45 L276.22,588.45 L277.2,588.45 L278.18,588.45 L279.17,588.45 L280.15,588.45 L281.13,588.45 L282.11,588.45 L283.1,588.45 L284.08,588.45 L285.06,588.45 L286.05,588.45 L287.03,588.45 L288.01,588.45 L288.99,588.45 L289.98,588.45 L290.96,588.45 L291.94,588.45 L292.93,588.45 L293.91,588.45 L294.89,588.45 L295.87,588.45 L296.86,588.45 L297.84,588.45 L298.82,588.45 L299.81,588.45 L300.79,588.45 L301.77,588.45 L302.75,588.45 L303.74,588.45 L304.72,588.45 L305.7,588.45 L306.68,588.45 L307.67,588.45 L308.65,588.45 L309.63,588.45 L310.62,588.45 L311.6,588.45 L312.58,588.45 L313.56,588.45 L314.55,588.45 L315.53,588.45 L316.51,588.45 L317.5,588.45 L318.48,588.45 L319.46,588.45 L320.44,588.45 L321.43,588.45 L322.41,588.45 L323.39,588.45 L324.38,588.45 L325.36,588.45 L326.34,588.45 L327.32,588.45 L328.31,588.45 L329.29,588.45 L330.27,588.45 L331.25,588.45 L332.24,588.45 L333.22,588.45 L334.2,588.45 L335.19,588.45 L336.17,588.45 L337.15,588.45 L338.13,588.45 L339.12,588.45 L340.1,588.45 L341.08,588.45 L342.07,588.45 L343.05,588.45 L344.03,588.45 L345.01,588.45 L346,588.45 L346.98,588.45 L347.96,588.45 L348.95,588.45 L349.93,588.45 L350.91,588.42 L351.89,588.39 L352.88,588.36 L353.86,588.32 L354.84,588.29 L355.82,588.26 L356.81,588.23 L357.79,588.2 L358.77,588.17 L359.76,588.14 L360.74,588.11 L361.72,588.07 L362.7,588.04 L363.69,588.01 L364.67,587.98 L365.65,587.95 L366.64,587.92 L367.62,587.89 L368.6,587.86 L369.58,587.82 L370.57,587.79 L371.55,587.76 L372.53,587.73 L373.52,587.7 L374.5,587.67 L375.48,587.64 L376.46,587.61 L377.45,587.57 L378.43,587.54 L379.41,587.51 L380.39,587.48 L381.38,587.45 L382.36,587.42 L383.34,587.39 L384.33,587.36 L385.31,587.32 L386.29,587.29 L387.27,587.26 L388.26,587.23 L389.24,587.2 L390.22,587.17 L391.21,587.14 L392.19,587.1 L393.17,587.07 L394.15,587.04 L395.14,587.01 L396.12,586.97 L397.1,586.94 L398.09,586.9 L399.07,586.86 L400.05,586.81 L401.03,586.76 L402.02,586.69 L403,586.61 L403.98,586.51 L404.96,586.37 L405.95,586.19 L406.93,585.95 L407.91,585.63 L408.9,585.19 L409.88,584.61 L410.86,583.81 L411.84,582.76 L412.83,581.35 L413.81,579.49 L414.79,577.06 L415.78,573.9 L416.76,569.83 L417.74,564.66 L418.72,558.13 L419.71,549.99 L420.69,539.95 L421.67,527.7 L422.66,512.95 L423.64,495.41 L424.62,477.2 L425.6,453.43 L426.59,426.35 L427.57,396.02 L428.55,362.67 L429.53,326.73 L430.52,288.9 L431.5,250.16 L432.48,211.81 L433.47,175.51 L434.45,143.29 L435.43,117.74 L436.41,102.67 L437.4,111.71 L438.38,136.37 L439.36,167.55 L440.35,202.21 L441.33,234.91 L442.31,268.4 L443.29,301.54 L444.28,333.49 L445.26,365.89 L446.24,395.65 L447.23,422.65 L448.21,446.84 L449.19,468.28 L450.17,487.11 L451.16,503.49 L452.14,517.63 L453.12,529.72 L454.1,539.99 L455.09,548.66 L456.07,555.92 L457.05,561.97 L458.04,566.98 L459.02,571.57 L460,574.95 L460.98,577.7 L461.97,579.93 L462.95,581.73 L463.93,583.17 L464.92,584.33 L465.9,585.26 L466.88,586 L467.86,586.58 L468.85,587.05 L469.83,587.42 L470.81,587.71 L471.8,587.94 L472.78,588.12 L473.76,588.26 L474.74,588.38 L475.73,588.47 L476.71,588.55 L477.69,588.61 L478.67,588.65 L479.66,588.69 L480.64,588.73 L481.62,588.75 L482.61,588.78 L483.59,588.8 L484.57,588.81 L485.55,588.82 L486.54,588.84 L487.52,588.85 L488.5,588.86 L489.49,588.86 L490.47,588.87 L491.45,588.88 L492.43,588.88 L493.42,588.89 L494.4,588.89 L495.38,588.89 L496.37,588.9 L497.35,588.9 L498.33,588.9 L499.31,588.91 L500.3,588.91 L501.28,588.91 L502.26,588.91 L503.24,588.91 L504.23,588.91 L505.21,588.91 L506.19,588.92 L507.18,588.92 L508.16,588.92 L509.14,588.92 L510.12,588.92 L511.11,588.92 L512.09,588.92 L513.07,588.92 L514.06,588.92 L515.04,588.92 L516.02,588.92 L517,588.92 L517.99,588.92 L518.97,588.92 L519.95,588.92 L520.94,588.92 L521.92,588.92 L522.9,588.92 L523.88,588.92 L524.87,588.92 L525.85,588.92 L526.83,588.92 L527.81,588.92 L528.8,588.92 L529.78,588.92 L530.76,588.92 L531.75,588.92 L532.73,588.92 L533.71,588.92 L534.69,588.92 L535.68,588.92 L536.66,588.92 L537.64,588.92 L538.63,588.92 L539.61,588.92 L540.59,588.92 L541.57,588.92 L542.56,588.92 L543.54,588.92 L544.52,588.92 L545.51,588.92 L546.49,588.92 L547.47,588.92 L548.45,588.92 L549.44,588.92 L550.42,588.92 L551.4,588.92 L552.38,588.92 L553.37,588.92 L554.35,588.92 L555.33,588.92 L556.32,588.92 L557.3,588.92 L558.28,588.92 L559.26,588.92 L560.25,588.92 L561.23,588.92 L562.21,588.92 L563.2,588.92 L564.18,588.92 L565.16,588.92 L566.14,588.92 L567.13,588.92 L568.11,588.92 L569.09,588.92 L570.08,588.92 L571.06,588.92 L572.04,588.92 L573.02,588.92 L574.01,588.92 L574.99,588.92 L575.97,588.92 L576.95,588.92 L577.94,588.92 L578.92,588.92 L579.9,588.92 L580.89,588.92 L581.87,588.92 L582.85,588.92 L583.83,588.92 L584.82,588.92 L585.8,588.92" fill="none" stroke="#2020c8" stroke-width="2.0"/>
<path fill="#18189a" d="M94.4,588.21l1.9,1.9l-1.9,1.9l-1.9,-1.9zM96.37,588.21l1.9,1.9l-1.9,1.9l-1.9,-1.9zM98.33,588.21l1.9,1.9l-1.9,1.9l-1.9,-1.9zM100.3,588.18l1.9,1.9l-1.9,1.9l-1.9,-1.9zM102.26,588.05l1.9,1.9l-1.9,1.9l-1.9,-1.9zM104.23,587.56l1.9,1.9l-1.9,1.9l-1.9,-1.9zM106.19,586.29l1.9,1.9l-1.9,1.9l-1.9,-1.9zM108.16,584.05l1.9,1.9l-1.9,1.9l-1.9,-1.9zM110.12,581.6l1.9,1.9l-1.9,1.9l-1.9,-1.9zM112.09,580.49l1.9,1.9l-1.9,1.9l-1.9,-1.9zM114.06,581.6l1.9,1.9l-1.9,1.9l-1.9,-1.9zM116.02,584.05l1.9,1.9l-1.9,1.9l-1.9,-1.9zM117.99,586.29l1.9,1.9l-1.9,1.9l-1.9,-1.9zM119.95,587.56l1.9,1.9l-1.9,1.9l-1.9,-1.9zM121.92,588.05l1.9,1.9l-1.9,1.9l-1.9,-1.9zM123.88,588.18l1.9,1.9l-1.9,1.9l-1.9,-1.9zM125.85,588.21l1.9,1.9l-1.9,1.9l-1.9,-1.9zM127.82,588.21l1.9,1.9l-1.9,1.9l-1.9,-1.9zM129.78,588.21l1.9,1.9l-1.9,1.9l-1.9,-1.9zM131.75,588.21l1.9,1.9l-1.9,1.9l-1.9,-1.9zM133.71,588.21l1.9,1.9l-1.9,1.9l-1.9,-1.9zM135.68,588.21l1.9,1.9l-1.9,1.9l-1.9,-1.9zM137.64,588.21l1.9,1.9l-1.9,1.9l-1.9,-1.9zM139.61,588.21l1.9,1.9l-1.9,1.9l-1.9,-1.9zM141.57,588.21l1.9,1.9l-1.9,1.9l-1.9,-1.9zM143.54,588.21l1.9,1.9l-1.9,1.9l-1.9,-1.9zM145.51,588.21l1.9,1.9l-1.9,1.9l-1.9,-1.9zM147.47,588.21l1.9,1.9l-1.9,1.9l-1.9,-1.9zM149.44,588.21l1.9,1.9l-1.9,1.9l-1.9,-1.9zM151.4,588.21l1.9,1.9l-1.9,1.9l-1.9,-1.9zM153.37,588.21l1.9,1.9l-1.9,1.9l-1.9,-1.9zM155.33,588.21l1.9,1.9l-1.9,1.9l-1.9,-1.9zM157.3,588.21l1.9,1.9l-1.9,1.9l-1.9,-1.9zM159.26,588.21l1.9,1.9l-1.9,1.9l-1.9,-1.9zM161.23,588.21l1.9,1.9l-1.9,1.9l-1.9,-1.9zM163.2,588.21l1.9,1.9l-1.9,1.9l-1.9,-1.9zM165.16,588.21l1.9,1.9l-1.9,1.9l-1.9,-1.9zM167.13,588.21l1.9,1.9l-1.9,1.9l-1.9,-1.9zM169.09,588.21l1.9,1.9l-1.9,1.9l-1.9,-1.9zM171.06,588.21l1.9,1.9l-1.9,1.9l-1.9,-1.9zM173.02,588.21l1.9,1.9l-1.9,1.9l-1.9,-1.9zM174.99,588.21l1.9,1.9l-1.9,1.9l-1.9,-1.9zM176.96,588.21l1.9,1.9l-1.9,1.9l-1.9,-1.9zM178.92,588.19l1.9,1.9l-1.9,1.9l-1.9,-1.9zM180.89,588.15l1.9,1.9l-1.9,1.9l-1.9,-1.9zM182.85,588.01l1.9,1.9l-1.9,1.9l-1.9,-1.9zM184.82,587.69l1.9,1.9l-1.9,1.9l-1.9,-1.9zM186.78,587.02l1.9,1.9l-1.9,1.9l-1.9,-1.9zM188.75,585.85l1.9,1.9l-1.9,1.9l-1.9,-1.9zM190.71,584.12l1.9,1.9l-1.9,1.9l-1.9,-1.9zM192.68,582.03l1.9,1.9l-1.9,1.9l-1.9,-1.9zM194.65,580.07l1.9,1.9l-1.9,1.9l-1.9,-1.9zM196.61,578.87l1.9,1.9l-1.9,1.9l-1.9,-1.9zM198.58,578.87l1.9,1.9l-1.9,1.9l-1.9,-1.9zM200.54,580.07l1.9,1.9l-1.9,1.9l-1.9,-1.9zM202.51,582.03l1.9,1.9l-1.9,1.9l-1.9,-1.9zM204.47,584.12l1.9,1.9l-1.9,1.9l-1.9,-1.9zM206.44,585.85l1.9,1.9l-1.9,1.9l-1.9,-1.9zM208.4,585.36l1.9,1.9l-1.9,1.9l-1.9,-1.9zM210.37,586.03l1.9,1.9l-1.9,1.9l-1.9,-1.9zM212.34,586.35l1.9,1.9l-1.9,1.9l-1.9,-1.9zM214.3,586.48l1.9,1.9l-1.9,1.9l-1.9,-1.9zM216.27,586.53l1.9,1.9l-1.9,1.9l-1.9,-1.9zM218.23,586.55l1.9,1.9l-1.9,1.9l-1.9,-1.9zM220.2,586.55l1.9,1.9l-1.9,1.9l-1.9,-1.9zM222.16,586.55l1.9,1.9l-1.9,1.9l-1.9,-1.9zM224.13,586.55l1.9,1.9l-1.9,1.9l-1.9,-1.9zM226.1,586.55l1.9,1.9l-1.9,1.9l-1.9,-1.9zM228.06,586.55l1.9,1.9l-1.9,1.9l-1.9,-1.9zM230.03,586.55l1.9,1.9l-1.9,1.9l-1.9,-1.9zM231.99,586.55l1.9,1.9l-1.9,1.9l-1.9,-1.9zM233.96,586.55l1.9,1.9l-1.9,1.9l-1.9,-1.9zM235.92,586.55l1.9,1.9l-1.9,1.9l-1.9,-1.9zM237.89,586.55l1.9,1.9l-1.9,1.9l-1.9,-1.9zM239.85,586.55l1.9,1.9l-1.9,1.9l-1.9,-1.9zM241.82,586.55l1.9,1.9l-1.9,1.9l-1.9,-1.9zM243.79,586.55l1.9,1.9l-1.9,1.9l-1.9,-1.9zM245.75,586.55l1.9,1.9l-1.9,1.9l-1.9,-1.9zM247.72,586.55l1.9,1.9l-1.9,1.9l-1.9,-1.9zM249.68,586.55l1.9,1.9l-1.9,1.9l-1.9,-1.9zM251.65,586.55l1.9,1.9l-1.9,1.9l-1.9,-1.9zM253.61,586.55l1.9,1.9l-1.9,1.9l-1.9,-1.9zM255.58,586.55l1.9,1.9l-1.9,1.9l-1.9,-1.9zM257.54,586.55l1.9,1.9l-1.9,1.9l-1.9,-1.9zM259.51,586.55l1.9,1.9l-1.9,1.9l-1.9,-1.9zM261.48,586.55l1.9,1.9l-1.9,1.9l-1.9,-1.9zM263.44,586.55l1.9,1.9l-1.9,1.9l-1.9,-1.9zM265.41,586.55l1.9,1.9l-1.9,1.9l-1.9,-1.9zM267.37,586.55l1.9,1.9l-1.9,1.9l-1.9,-1.9zM269.34,586.55l1.9,1.9l-1.9,1.9l-1.9,-1.9zM271.3,586.55l1.9,1.9l-1.9,1.9l-1.9,-1.9zM273.27,586.55l1.9,1.9l-1.9,1.9l-1.9,-1.9zM275.24,586.55l1.9,1.9l-1.9,1.9l-1.9,-1.9zM277.2,586.55l1.9,1.9l-1.9,1.9l-1.9,-1.9zM279.17,586.55l1.9,1.9l-1.9,1.9l-1.9,-1.9zM281.13,586.55l1.9,1.9l-1.9,1.9l-1.9,-1.9zM283.1,586.55l1.9,1.9l-1.9,1.9l-1.9,-1.9zM285.06,586.55l1.9,1.9l-1.9,1.9l-1.9,-1.9zM287.03,586.55l1.9,1.9l-1.9,1.9l-1.9,-1.9zM288.99,586.55l1.9,1.9l-1.9,1.9l-1.9,-1.9zM290.96,586.55l1.9,1.9l-1.9,1.9l-1.9,-1.9zM292.93,586.55l1.9,1.9l-1.9,1.9l-1.9,-1.9zM294.89,586.55l1.9,1.9l-1.9,1.9l-1.9,-1.9zM296.86,586.55l1.9,1.9l-1.9,1.9l-1.9,-1.9zM298.82,586.55l1.9,1.9l-1.9,1.9l-1.9,-1.9zM300.79,586.55l1.9,1.9l-1.9,1.9l-1.9,-1.9zM302.75,586.55l1.9,1.9l-1.9,1.9l-1.9,-1.9zM304.72,586.55l1.9,1.9l-1.9,1.9l-1.9,-1.9zM306.68,586.55l1.9,1.9l-1.9,1.9l-1.9,-1.9zM308.65,586.55l1.9,1.9l-1.9,1.9l-1.9,-1.9zM310.62,586.55l1.9,1.9l-1.9,1.9l-1.9,-1.9zM312.58,586.55l1.9,1.9l-1.9,1.9l-1.9,-1.9zM314.55,586.55l1.9,1.9l-1.9,1.9l-1.9,-1.9zM316.51,586.55l1.9,1.9l-1.9,1.9l-1.9,-1.9zM318.48,586.55l1.9,1.9l-1.9,1.9l-1.9,-1.9zM320.44,586.55l1.9,1.9l-1.9,1.9l-1.9,-1.9zM322.41,586.55l1.9,1.9l-1.9,1.9l-1.9,-1.9zM324.38,586.55l1.9,1.9l-1.9,1.9l-1.9,-1.9zM326.34,586.55l1.9,1.9l-1.9,1.9l-1.9,-1.9zM328.31,586.55l1.9,1.9l-1.9,1.9l-1.9,-1.9zM330.27,586.55l1.9,1.9l-1.9,1.9l-1.9,-1.9zM332.24,586.55l1.9,1.9l-1.9,1.9l-1.9,-1.9zM334.2,586.55l1.9,1.9l-1.9,1.9l-1.9,-1.9zM336.17,586.55l1.9,1.9l-1.9,1.9l-1.9,-1.9zM338.13,586.55l1.9,1.9l-1.9,1.9l-1.9,-1.9zM340.1,586.55l1.9,1.9l-1.9,1.9l-1.9,-1.9zM342.07,586.55l1.9,1.9l-1.9,1.9l-1.9,-1.9zM344.03,586.55l1.9,1.9l-1.9,1.9l-1.9,-1.9zM346,586.55l1.9,1.9l-1.9,1.9l-1.9,-1.9zM347.96,586.55l1.9,1.9l-1.9,1.9l-1.9,-1.9zM349.93,586.55l1.9,1.9l-1.9,1.9l-1.9,-1.9zM351.89,586.49l1.9,1.9l-1.9,1.9l-1.9,-1.9zM353.86,586.42l1.9,1.9l-1.9,1.9l-1.9,-1.9zM355.82,586.36l1.9,1.9l-1.9,1.9l-1.9,-1.9zM357.79,586.3l1.9,1.9l-1.9,1.9l-1.9,-1.9zM359.76,586.24l1.9,1.9l-1.9,1.9l-1.9,-1.9zM361.72,586.17l1.9,1.9l-1.9,1.9l-1.9,-1.9zM363.69,586.11l1.9,1.9l-1.9,1.9l-1.9,-1.9zM365.65,586.05l1.9,1.9l-1.9,1.9l-1.9,-1.9zM367.62,585.99l1.9,1.9l-1.9,1.9l-1.9,-1.9zM369.58,585.92l1.9,1.9l-1.9,1.9l-1.9,-1.9zM371.55,585.86l1.9,1.9l-1.9,1.9l-1.9,-1.9zM373.52,585.8l1.9,1.9l-1.9,1.9l-1.9,-1.9zM375.48,585.74l1.9,1.9l-1.9,1.9l-1.9,-1.9zM377.45,585.67l1.9,1.9l-1.9,1.9l-1.9,-1.9zM379.41,585.61l1.9,1.9l-1.9,1.9l-1.9,-1.9zM381.38,585.55l1.9,1.9l-1.9,1.9l-1.9,-1.9zM383.34,585.49l1.9,1.9l-1.9,1.9l-1.9,-1.9zM385.31,585.42l1.9,1.9l-1.9,1.9l-1.9,-1.9zM387.27,585.36l1.9,1.9l-1.9,1.9l-1.9,-1.9zM389.24,585.3l1.9,1.9l-1.9,1.9l-1.9,-1.9zM391.21,585.24l1.9,1.9l-1.9,1.9l-1.9,-1.9zM393.17,585.17l1.9,1.9l-1.9,1.9l-1.9,-1.9zM395.14,585.11l1.9,1.9l-1.9,1.9l-1.9,-1.9zM397.1,585.04l1.9,1.9l-1.9,1.9l-1.9,-1.9zM399.07,584.96l1.9,1.9l-1.9,1.9l-1.9,-1.9zM401.03,584.86l1.9,1.9l-1.9,1.9l-1.9,-1.9zM403,584.71l1.9,1.9l-1.9,1.9l-1.9,-1.9zM404.96,584.47l1.9,1.9l-1.9,1.9l-1.9,-1.9zM406.93,584.05l1.9,1.9l-1.9,1.9l-1.9,-1.9zM408.9,583.29l1.9,1.9l-1.9,1.9l-1.9,-1.9zM410.86,581.91l1.9,1.9l-1.9,1.9l-1.9,-1.9zM412.83,579.45l1.9,1.9l-1.9,1.9l-1.9,-1.9zM414.79,575.16l1.9,1.9l-1.9,1.9l-1.9,-1.9zM416.76,567.93l1.9,1.9l-1.9,1.9l-1.9,-1.9zM418.72,556.23l1.9,1.9l-1.9,1.9l-1.9,-1.9zM420.69,538.05l1.9,1.9l-1.9,1.9l-1.9,-1.9zM422.66,511.05l1.9,1.9l-1.9,1.9l-1.9,-1.9zM424.62,475.3l1.9,1.9l-1.9,1.9l-1.9,-1.9zM426.59,424.45l1.9,1.9l-1.9,1.9l-1.9,-1.9zM428.55,360.77l1.9,1.9l-1.9,1.9l-1.9,-1.9zM430.52,287l1.9,1.9l-1.9,1.9l-1.9,-1.9zM432.48,209.91l1.9,1.9l-1.9,1.9l-1.9,-1.9zM434.45,141.39l1.9,1.9l-1.9,1.9l-1.9,-1.9zM436.41,100.77l1.9,1.9l-1.9,1.9l-1.9,-1.9zM438.38,134.47l1.9,1.9l-1.9,1.9l-1.9,-1.9zM440.35,200.31l1.9,1.9l-1.9,1.9l-1.9,-1.9zM442.31,266.5l1.9,1.9l-1.9,1.9l-1.9,-1.9zM444.28,331.59l1.9,1.9l-1.9,1.9l-1.9,-1.9zM446.24,393.75l1.9,1.9l-1.9,1.9l-1.9,-1.9zM448.21,444.94l1.9,1.9l-1.9,1.9l-1.9,-1.9zM450.17,485.21l1.9,1.9l-1.9,1.9l-1.9,-1.9zM452.14,515.73l1.9,1.9l-1.9,1.9l-1.9,-1.9zM454.1,538.09l1.9,1.9l-1.9,1.9l-1.9,-1.9zM456.07,554.02l1.9,1.9l-1.9,1.9l-1.9,-1.9zM458.04,565.08l1.9,1.9l-1.9,1.9l-1.9,-1.9zM460,573.05l1.9,1.9l-1.9,1.9l-1.9,-1.9zM461.97,578.03l1.9,1.9l-1.9,1.9l-1.9,-1.9zM463.93,581.27l1.9,1.9l-1.9,1.9l-1.9,-1.9zM465.9,583.36l1.9,1.9l-1.9,1.9l-1.9,-1.9zM467.86,584.68l1.9,1.9l-1.9,1.9l-1.9,-1.9zM469.83,585.52l1.9,1.9l-1.9,1.9l-1.9,-1.9zM471.8,586.04l1.9,1.9l-1.9,1.9l-1.9,-1.9zM473.76,586.36l1.9,1.9l-1.9,1.9l-1.9,-1.9zM475.73,586.57l1.9,1.9l-1.9,1.9l-1.9,-1.9zM477.69,586.71l1.9,1.9l-1.9,1.9l-1.9,-1.9zM479.66,586.79l1.9,1.9l-1.9,1.9l-1.9,-1.9zM481.62,586.85l1.9,1.9l-1.9,1.9l-1.9,-1.9zM483.59,586.9l1.9,1.9l-1.9,1.9l-1.9,-1.9zM485.55,586.92l1.9,1.9l-1.9,1.9l-1.9,-1.9zM487.52,586.95l1.9,1.9l-1.9,1.9l-1.9,-1.9zM489.49,586.96l1.9,1.9l-1.9,1.9l-1.9,-1.9zM491.45,586.98l1.9,1.9l-1.9,1.9l-1.9,-1.9zM493.42,586.99l1.9,1.9l-1.9,1.9l-1.9,-1.9zM495.38,586.99l1.9,1.9l-1.9,1.9l-1.9,-1.9zM497.35,587l1.9,1.9l-1.9,1.9l-1.9,-1.9zM499.31,587.01l1.9,1.9l-1.9,1.9l-1.9,-1.9zM501.28,587.01l1.9,1.9l-1.9,1.9l-1.9,-1.9zM503.24,587.01l1.9,1.9l-1.9,1.9l-1.9,-1.9zM505.21,587.01l1.9,1.9l-1.9,1.9l-1.9,-1.9zM507.18,587.02l1.9,1.9l-1.9,1.9l-1.9,-1.9zM509.14,587.02l1.9,1.9l-1.9,1.9l-1.9,-1.9zM511.11,587.02l1.9,1.9l-1.9,1.9l-1.9,-1.9zM513.07,587.02l1.9,1.9l-1.9,1.9l-1.9,-1.9zM515.04,587.02l1.9,1.9l-1.9,1.9l-1.9,-1.9zM517,587.02l1.9,1.9l-1.9,1.9l-1.9,-1.9zM518.97,587.02l1.9,1.9l-1.9,1.9l-1.9,-1.9zM520.94,587.02l1.9,1.9l-1.9,1.9l-1.9,-1.9zM522.9,587.02l1.9,1.9l-1.9,1.9l-1.9,-1.9zM524.87,587.02l1.9,1.9l-1.9,1.9l-1.9,-1.9zM526.83,587.02l1.9,1.9l-1.9,1.9l-1.9,-1.9zM528.8,587.02l1.9,1.9l-1.9,1.9l-1.9,-1.9zM530.76,587.02l1.9,1.9l-1.9,1.9l-1.9,-1.9zM532.73,587.02l1.9,1.9l-1.9,1.9l-1.9,-1.9zM534.69,587.02l1.9,1.9l-1.9,1.9l-1.9,-1.9zM536.66,587.02l1.9,1.9l-1.9,1.9l-1.9,-1.9zM538.63,587.02l1.9,1.9l-1.9,1.9l-1.9,-1.9zM540.59,587.02l1.9,1.9l-1.9,1.9l-1.9,-1.9zM542.56,587.02l1.9,1.9l-1.9,1.9l-1.9,-1.9zM544.52,587.02l1.9,1.9l-1.9,1.9l-1.9,-1.9zM546.49,587.02l1.9,1.9l-1.9,1.9l-1.9,-1.9zM548.45,587.02l1.9,1.9l-1.9,1.9l-1.9,-1.9zM550.42,587.02l1.9,1.9l-1.9,1.9l-1.9,-1.9zM552.38,587.02l1.9,1.9l-1.9,1.9l-1.9,-1.9zM554.35,587.02l1.9,1.9l-1.9,1.9l-1.9,-1.9zM556.32,587.02l1.9,1.9l-1.9,1.9l-1.9,-1.9zM558.28,587.02l1.9,1.9l-1.9,1.9l-1.9,-1.9zM560.25,587.02l1.9,1.9l-1.9,1.9l-1.9,-1.9zM562.21,587.02l1.9,1.9l-1.9,1.9l-1.9,-1.9zM564.18,587.02l1.9,1.9l-1.9,1.9l-1.9,-1.9zM566.14,587.02l1.9,1.9l-1.9,1.9l-1.9,-1.9zM568.11,587.02l1.9,1.9l-1.9,1.9l-1.9,-1.9zM570.08,587.02l1.9,1.9l-1.9,1.9l-1.9,-1.9zM572.04,587.02l1.9,1.9l-1.9,1.9l-1.9,-1.9zM574.01,587.02l1.9,1.9l-1.9,1.9l-1.9,-1.9zM575.97,587.02l1.9,1.9l-1.9,1.9l-1.9,-1.9zM577.94,587.02l1.9,1.9l-1.9,1.9l-1.9,-1.9zM579.9,587.02l1.9,1.9l-1.9,1.9l-1.9,-1.9zM581.87,587.02l1.9,1.9l-1.9,1.9l-1.9,-1.9zM583.83,587.02l1.9,1.9l-1.9,1.9l-1.9,-1.9zM585.8,587.02l1.9,1.9l-1.9,1.9l-1.9,-1.9z"/>
</g>
<g id="pa">
<line x1="94.4" y1="55.4" x2="94.4" y2="599.7" stroke="#1a1a1a" stroke-width="2"/>
<line x1="585.8" y1="55.4" x2="585.8" y2="599.7" stroke="#1a1a1a" stroke-width="2"/>
<line x1="93.4" y1="56.4" x2="586.8" y2="56.4" stroke="#1a1a1a" stroke-width="2"/>
<line x1="93.4" y1="591.3" x2="586.8" y2="591.3" stroke="#1a1a1a" stroke-width="2"/>
<line x1="114.06" y1="56.4" x2="114.06" y2="60.2" stroke="#1a1a1a" stroke-width="1.6"/>
<line x1="114.06" y1="591.3" x2="114.06" y2="595.5" stroke="#1a1a1a" stroke-width="1.6"/>
<line x1="133.71" y1="56.4" x2="133.71" y2="60.2" stroke="#1a1a1a" stroke-width="1.6"/>
<line x1="133.71" y1="591.3" x2="133.71" y2="595.5" stroke="#1a1a1a" stroke-width="1.6"/>
<line x1="153.37" y1="56.4" x2="153.37" y2="60.2" stroke="#1a1a1a" stroke-width="1.6"/>
<line x1="153.37" y1="591.3" x2="153.37" y2="595.5" stroke="#1a1a1a" stroke-width="1.6"/>
<line x1="173.02" y1="56.4" x2="173.02" y2="60.2" stroke="#1a1a1a" stroke-width="1.6"/>
<line x1="173.02" y1="591.3" x2="173.02" y2="595.5" stroke="#1a1a1a" stroke-width="1.6"/>
<line x1="192.68" y1="56.4" x2="192.68" y2="63.9" stroke="#1a1a1a" stroke-width="1.6"/>
<line x1="192.68" y1="591.3" x2="192.68" y2="599.7" stroke="#1a1a1a" stroke-width="1.6"/>
<line x1="212.34" y1="56.4" x2="212.34" y2="60.2" stroke="#1a1a1a" stroke-width="1.6"/>
<line x1="212.34" y1="591.3" x2="212.34" y2="595.5" stroke="#1a1a1a" stroke-width="1.6"/>
<line x1="231.99" y1="56.4" x2="231.99" y2="60.2" stroke="#1a1a1a" stroke-width="1.6"/>
<line x1="231.99" y1="591.3" x2="231.99" y2="595.5" stroke="#1a1a1a" stroke-width="1.6"/>
<line x1="251.65" y1="56.4" x2="251.65" y2="60.2" stroke="#1a1a1a" stroke-width="1.6"/>
<line x1="251.65" y1="591.3" x2="251.65" y2="595.5" stroke="#1a1a1a" stroke-width="1.6"/>
<line x1="271.3" y1="56.4" x2="271.3" y2="60.2" stroke="#1a1a1a" stroke-width="1.6"/>
<line x1="271.3" y1="591.3" x2="271.3" y2="595.5" stroke="#1a1a1a" stroke-width="1.6"/>
<line x1="290.96" y1="56.4" x2="290.96" y2="63.9" stroke="#1a1a1a" stroke-width="1.6"/>
<line x1="290.96" y1="591.3" x2="290.96" y2="599.7" stroke="#1a1a1a" stroke-width="1.6"/>
<line x1="310.62" y1="56.4" x2="310.62" y2="60.2" stroke="#1a1a1a" stroke-width="1.6"/>
<line x1="310.62" y1="591.3" x2="310.62" y2="595.5" stroke="#1a1a1a" stroke-width="1.6"/>
<line x1="330.27" y1="56.4" x2="330.27" y2="60.2" stroke="#1a1a1a" stroke-width="1.6"/>
<line x1="330.27" y1="591.3" x2="330.27" y2="595.5" stroke="#1a1a1a" stroke-width="1.6"/>
<line x1="349.93" y1="56.4" x2="349.93" y2="60.2" stroke="#1a1a1a" stroke-width="1.6"/>
<line x1="349.93" y1="591.3" x2="349.93" y2="595.5" stroke="#1a1a1a" stroke-width="1.6"/>
<line x1="369.58" y1="56.4" x2="369.58" y2="60.2" stroke="#1a1a1a" stroke-width="1.6"/>
<line x1="369.58" y1="591.3" x2="369.58" y2="595.5" stroke="#1a1a1a" stroke-width="1.6"/>
<line x1="389.24" y1="56.4" x2="389.24" y2="63.9" stroke="#1a1a1a" stroke-width="1.6"/>
<line x1="389.24" y1="591.3" x2="389.24" y2="599.7" stroke="#1a1a1a" stroke-width="1.6"/>
<line x1="408.9" y1="56.4" x2="408.9" y2="60.2" stroke="#1a1a1a" stroke-width="1.6"/>
<line x1="408.9" y1="591.3" x2="408.9" y2="595.5" stroke="#1a1a1a" stroke-width="1.6"/>
<line x1="428.55" y1="56.4" x2="428.55" y2="60.2" stroke="#1a1a1a" stroke-width="1.6"/>
<line x1="428.55" y1="591.3" x2="428.55" y2="595.5" stroke="#1a1a1a" stroke-width="1.6"/>
<line x1="448.21" y1="56.4" x2="448.21" y2="60.2" stroke="#1a1a1a" stroke-width="1.6"/>
<line x1="448.21" y1="591.3" x2="448.21" y2="595.5" stroke="#1a1a1a" stroke-width="1.6"/>
<line x1="467.86" y1="56.4" x2="467.86" y2="60.2" stroke="#1a1a1a" stroke-width="1.6"/>
<line x1="467.86" y1="591.3" x2="467.86" y2="595.5" stroke="#1a1a1a" stroke-width="1.6"/>
<line x1="487.52" y1="56.4" x2="487.52" y2="63.9" stroke="#1a1a1a" stroke-width="1.6"/>
<line x1="487.52" y1="591.3" x2="487.52" y2="599.7" stroke="#1a1a1a" stroke-width="1.6"/>
<line x1="507.18" y1="56.4" x2="507.18" y2="60.2" stroke="#1a1a1a" stroke-width="1.6"/>
<line x1="507.18" y1="591.3" x2="507.18" y2="595.5" stroke="#1a1a1a" stroke-width="1.6"/>
<line x1="526.83" y1="56.4" x2="526.83" y2="60.2" stroke="#1a1a1a" stroke-width="1.6"/>
<line x1="526.83" y1="591.3" x2="526.83" y2="595.5" stroke="#1a1a1a" stroke-width="1.6"/>
<line x1="546.49" y1="56.4" x2="546.49" y2="60.2" stroke="#1a1a1a" stroke-width="1.6"/>
<line x1="546.49" y1="591.3" x2="546.49" y2="595.5" stroke="#1a1a1a" stroke-width="1.6"/>
<line x1="566.14" y1="56.4" x2="566.14" y2="60.2" stroke="#1a1a1a" stroke-width="1.6"/>
<line x1="566.14" y1="591.3" x2="566.14" y2="595.5" stroke="#1a1a1a" stroke-width="1.6"/>
<line x1="94.4" y1="567.55" x2="98.2" y2="567.55" stroke="#1a1a1a" stroke-width="1.6"/>
<line x1="585.8" y1="567.55" x2="582" y2="567.55" stroke="#1a1a1a" stroke-width="1.6"/>
<line x1="94.4" y1="543.8" x2="98.2" y2="543.8" stroke="#1a1a1a" stroke-width="1.6"/>
<line x1="585.8" y1="543.8" x2="582" y2="543.8" stroke="#1a1a1a" stroke-width="1.6"/>
<line x1="94.4" y1="520.05" x2="98.2" y2="520.05" stroke="#1a1a1a" stroke-width="1.6"/>
<line x1="585.8" y1="520.05" x2="582" y2="520.05" stroke="#1a1a1a" stroke-width="1.6"/>
<line x1="94.4" y1="496.3" x2="98.2" y2="496.3" stroke="#1a1a1a" stroke-width="1.6"/>
<line x1="585.8" y1="496.3" x2="582" y2="496.3" stroke="#1a1a1a" stroke-width="1.6"/>
<line x1="94.4" y1="472.55" x2="102.1" y2="472.55" stroke="#1a1a1a" stroke-width="1.6"/>
<line x1="585.8" y1="472.55" x2="578.1" y2="472.55" stroke="#1a1a1a" stroke-width="1.6"/>
<line x1="94.4" y1="448.8" x2="98.2" y2="448.8" stroke="#1a1a1a" stroke-width="1.6"/>
<line x1="585.8" y1="448.8" x2="582" y2="448.8" stroke="#1a1a1a" stroke-width="1.6"/>
<line x1="94.4" y1="425.05" x2="98.2" y2="425.05" stroke="#1a1a1a" stroke-width="1.6"/>
<line x1="585.8" y1="425.05" x2="582" y2="425.05" stroke="#1a1a1a" stroke-width="1.6"/>
<line x1="94.4" y1="401.3" x2="98.2" y2="401.3" stroke="#1a1a1a" stroke-width="1.6"/>
<line x1="585.8" y1="401.3" x2="582" y2="401.3" stroke="#1a1a1a" stroke-width="1.6"/>
<line x1="94.4" y1="377.55" x2="98.2" y2="377.55" stroke="#1a1a1a" stroke-width="1.6"/>
<line x1="585.8" y1="377.55" x2="582" y2="377.55" stroke="#1a1a1a" stroke-width="1.6"/>
<line x1="94.4" y1="353.8" x2="102.1" y2="353.8" stroke="#1a1a1a" stroke-width="1.6"/>
<line x1="585.8" y1="353.8" x2="578.1" y2="353.8" stroke="#1a1a1a" stroke-width="1.6"/>
<line x1="94.4" y1="330.05" x2="98.2" y2="330.05" stroke="#1a1a1a" stroke-width="1.6"/>
<line x1="585.8" y1="330.05" x2="582" y2="330.05" stroke="#1a1a1a" stroke-width="1.6"/>
<line x1="94.4" y1="306.3" x2="98.2" y2="306.3" stroke="#1a1a1a" stroke-width="1.6"/>
<line x1="585.8" y1="306.3" x2="582" y2="306.3" stroke="#1a1a1a" stroke-width="1.6"/>
<line x1="94.4" y1="282.55" x2="98.2" y2="282.55" stroke="#1a1a1a" stroke-width="1.6"/>
<line x1="585.8" y1="282.55" x2="582" y2="282.55" stroke="#1a1a1a" stroke-width="1.6"/>
<line x1="94.4" y1="258.8" x2="98.2" y2="258.8" stroke="#1a1a1a" stroke-width="1.6"/>
<line x1="585.8" y1="258.8" x2="582" y2="258.8" stroke="#1a1a1a" stroke-width="1.6"/>
<line x1="94.4" y1="235.05" x2="102.1" y2="235.05" stroke="#1a1a1a" stroke-width="1.6"/>
<line x1="585.8" y1="235.05" x2="578.1" y2="235.05" stroke="#1a1a1a" stroke-width="1.6"/>
<line x1="94.4" y1="211.3" x2="98.2" y2="211.3" stroke="#1a1a1a" stroke-width="1.6"/>
<line x1="585.8" y1="211.3" x2="582" y2="211.3" stroke="#1a1a1a" stroke-width="1.6"/>
<line x1="94.4" y1="187.55" x2="98.2" y2="187.55" stroke="#1a1a1a" stroke-width="1.6"/>
<line x1="585.8" y1="187.55" x2="582" y2="187.55" stroke="#1a1a1a" stroke-width="1.6"/>
<line x1="94.4" y1="163.8" x2="98.2" y2="163.8" stroke="#1a1a1a" stroke-width="1.6"/>
<line x1="585.8" y1="163.8" x2="582" y2="163.8" stroke="#1a1a1a" stroke-width="1.6"/>
<line x1="94.4" y1="140.05" x2="98.2" y2="140.05" stroke="#1a1a1a" stroke-width="1.6"/>
<line x1="585.8" y1="140.05" x2="582" y2="140.05" stroke="#1a1a1a" stroke-width="1.6"/>
<line x1="94.4" y1="116.3" x2="102.1" y2="116.3" stroke="#1a1a1a" stroke-width="1.6"/>
<line x1="585.8" y1="116.3" x2="578.1" y2="116.3" stroke="#1a1a1a" stroke-width="1.6"/>
<line x1="94.4" y1="92.55" x2="98.2" y2="92.55" stroke="#1a1a1a" stroke-width="1.6"/>
<line x1="585.8" y1="92.55" x2="582" y2="92.55" stroke="#1a1a1a" stroke-width="1.6"/>
<line x1="94.4" y1="68.8" x2="98.2" y2="68.8" stroke="#1a1a1a" stroke-width="1.6"/>
<line x1="585.8" y1="68.8" x2="582" y2="68.8" stroke="#1a1a1a" stroke-width="1.6"/>
<text transform="translate(65.32,599.3) scale(0.9746,1)" font-size="30" fill="#000">0</text>
<text transform="translate(49.09,480.55) scale(0.9746,1)" font-size="30" fill="#000">10</text>
<text transform="translate(49.09,361.8) scale(0.9746,1)" font-size="30" fill="#000">20</text>
<text transform="translate(49.09,243.05) scale(0.9746,1)" font-size="30" fill="#000">30</text>
<text transform="translate(49.09,124.3) scale(0.9746,1)" font-size="30" fill="#000">40</text>
<text transform="translate(74.64,628.1) scale(0.9746,1)" font-size="30" fill="#000">0.0</text>
<text transform="translate(172.96,628.1) scale(0.9746,1)" font-size="30" fill="#000">0.5</text>
<text transform="translate(270.69,628.1) scale(0.9746,1)" font-size="30" fill="#000">1.0</text>
<text transform="translate(369.01,628.1) scale(0.9746,1)" font-size="30" fill="#000">1.5</text>
<text transform="translate(467.62,628.1) scale(0.9746,1)" font-size="30" fill="#000">2.0</text>
<text transform="translate(565.93,628.1) scale(0.9746,1)" font-size="30" fill="#000">2.5</text>
<text transform="translate(239.89,669.9) scale(0.9703,1)" font-size="37" fill="#000">Energy(keV)</text>
<text transform="translate(27.8,442.72) rotate(-90) scale(1.0047,1)" font-size="36.3" fill="#000">Intensity (a. u.)</text>
<text transform="translate(94.65,33.7) scale(1.0375,1)" font-size="35.4" fill="#000">(a)</text>
<text transform="translate(211.6,306.2) scale(0.9879,1)" font-size="28.8" fill="#000">O K</text>
<text transform="translate(260.48,314.6) scale(1.3445,1)" font-size="17" fill="#000">α</text>
<text transform="translate(447.68,115.5) scale(0.9806,1)" font-size="28.8" fill="#000">Si K</text>
<text transform="translate(498.8,124) scale(1.3214,1)" font-size="17" fill="#000">α</text>
</g>
<g id="pb">
<line x1="735.67" y1="57.1" x2="735.67" y2="64.1" stroke="#1a1a1a" stroke-width="1.8"/>
<line x1="735.67" y1="593.3" x2="735.67" y2="586.3" stroke="#1a1a1a" stroke-width="1.8"/>
<line x1="764.54" y1="57.1" x2="764.54" y2="61.1" stroke="#1a1a1a" stroke-width="1.8"/>
<line x1="764.54" y1="593.3" x2="764.54" y2="589.3" stroke="#1a1a1a" stroke-width="1.8"/>
<line x1="793.41" y1="57.1" x2="793.41" y2="61.1" stroke="#1a1a1a" stroke-width="1.8"/>
<line x1="793.41" y1="593.3" x2="793.41" y2="589.3" stroke="#1a1a1a" stroke-width="1.8"/>
<line x1="822.28" y1="57.1" x2="822.28" y2="61.1" stroke="#1a1a1a" stroke-width="1.8"/>
<line x1="822.28" y1="593.3" x2="822.28" y2="589.3" stroke="#1a1a1a" stroke-width="1.8"/>
<line x1="851.15" y1="57.1" x2="851.15" y2="61.1" stroke="#1a1a1a" stroke-width="1.8"/>
<line x1="851.15" y1="593.3" x2="851.15" y2="589.3" stroke="#1a1a1a" stroke-width="1.8"/>
<line x1="880.02" y1="57.1" x2="880.02" y2="64.1" stroke="#1a1a1a" stroke-width="1.8"/>
<line x1="880.02" y1="593.3" x2="880.02" y2="586.3" stroke="#1a1a1a" stroke-width="1.8"/>
<line x1="908.89" y1="57.1" x2="908.89" y2="61.1" stroke="#1a1a1a" stroke-width="1.8"/>
<line x1="908.89" y1="593.3" x2="908.89" y2="589.3" stroke="#1a1a1a" stroke-width="1.8"/>
<line x1="937.76" y1="57.1" x2="937.76" y2="61.1" stroke="#1a1a1a" stroke-width="1.8"/>
<line x1="937.76" y1="593.3" x2="937.76" y2="589.3" stroke="#1a1a1a" stroke-width="1.8"/>
<line x1="966.64" y1="57.1" x2="966.64" y2="61.1" stroke="#1a1a1a" stroke-width="1.8"/>
<line x1="966.64" y1="593.3" x2="966.64" y2="589.3" stroke="#1a1a1a" stroke-width="1.8"/>
<line x1="995.51" y1="57.1" x2="995.51" y2="61.1" stroke="#1a1a1a" stroke-width="1.8"/>
<line x1="995.51" y1="593.3" x2="995.51" y2="589.3" stroke="#1a1a1a" stroke-width="1.8"/>
<line x1="1024.38" y1="57.1" x2="1024.38" y2="64.1" stroke="#1a1a1a" stroke-width="1.8"/>
<line x1="1024.38" y1="593.3" x2="1024.38" y2="586.3" stroke="#1a1a1a" stroke-width="1.8"/>
<line x1="1053.25" y1="57.1" x2="1053.25" y2="61.1" stroke="#1a1a1a" stroke-width="1.8"/>
<line x1="1053.25" y1="593.3" x2="1053.25" y2="589.3" stroke="#1a1a1a" stroke-width="1.8"/>
<line x1="1082.12" y1="57.1" x2="1082.12" y2="61.1" stroke="#1a1a1a" stroke-width="1.8"/>
<line x1="1082.12" y1="593.3" x2="1082.12" y2="589.3" stroke="#1a1a1a" stroke-width="1.8"/>
<line x1="1110.99" y1="57.1" x2="1110.99" y2="61.1" stroke="#1a1a1a" stroke-width="1.8"/>
<line x1="1110.99" y1="593.3" x2="1110.99" y2="589.3" stroke="#1a1a1a" stroke-width="1.8"/>
<line x1="1139.86" y1="57.1" x2="1139.86" y2="61.1" stroke="#1a1a1a" stroke-width="1.8"/>
<line x1="1139.86" y1="593.3" x2="1139.86" y2="589.3" stroke="#1a1a1a" stroke-width="1.8"/>
<line x1="1168.73" y1="57.1" x2="1168.73" y2="64.1" stroke="#1a1a1a" stroke-width="1.8"/>
<line x1="1168.73" y1="593.3" x2="1168.73" y2="586.3" stroke="#1a1a1a" stroke-width="1.8"/>
<line x1="706.8" y1="566.49" x2="711.8" y2="566.49" stroke="#1a1a1a" stroke-width="1.8"/>
<line x1="1197.6" y1="566.49" x2="1192.6" y2="566.49" stroke="#1a1a1a" stroke-width="1.8"/>
<line x1="706.8" y1="539.68" x2="711.8" y2="539.68" stroke="#1a1a1a" stroke-width="1.8"/>
<line x1="1197.6" y1="539.68" x2="1192.6" y2="539.68" stroke="#1a1a1a" stroke-width="1.8"/>
<line x1="706.8" y1="512.87" x2="711.8" y2="512.87" stroke="#1a1a1a" stroke-width="1.8"/>
<line x1="1197.6" y1="512.87" x2="1192.6" y2="512.87" stroke="#1a1a1a" stroke-width="1.8"/>
<line x1="706.8" y1="486.06" x2="717.6" y2="486.06" stroke="#1a1a1a" stroke-width="1.8"/>
<line x1="1197.6" y1="486.06" x2="1186.8" y2="486.06" stroke="#1a1a1a" stroke-width="1.8"/>
<line x1="706.8" y1="459.25" x2="711.8" y2="459.25" stroke="#1a1a1a" stroke-width="1.8"/>
<line x1="1197.6" y1="459.25" x2="1192.6" y2="459.25" stroke="#1a1a1a" stroke-width="1.8"/>
<line x1="706.8" y1="432.44" x2="711.8" y2="432.44" stroke="#1a1a1a" stroke-width="1.8"/>
<line x1="1197.6" y1="432.44" x2="1192.6" y2="432.44" stroke="#1a1a1a" stroke-width="1.8"/>
<line x1="706.8" y1="405.63" x2="711.8" y2="405.63" stroke="#1a1a1a" stroke-width="1.8"/>
<line x1="1197.6" y1="405.63" x2="1192.6" y2="405.63" stroke="#1a1a1a" stroke-width="1.8"/>
<line x1="706.8" y1="378.82" x2="717.6" y2="378.82" stroke="#1a1a1a" stroke-width="1.8"/>
<line x1="1197.6" y1="378.82" x2="1186.8" y2="378.82" stroke="#1a1a1a" stroke-width="1.8"/>
<line x1="706.8" y1="352.01" x2="711.8" y2="352.01" stroke="#1a1a1a" stroke-width="1.8"/>
<line x1="1197.6" y1="352.01" x2="1192.6" y2="352.01" stroke="#1a1a1a" stroke-width="1.8"/>
<line x1="706.8" y1="325.2" x2="711.8" y2="325.2" stroke="#1a1a1a" stroke-width="1.8"/>
<line x1="1197.6" y1="325.2" x2="1192.6" y2="325.2" stroke="#1a1a1a" stroke-width="1.8"/>
<line x1="706.8" y1="298.39" x2="711.8" y2="298.39" stroke="#1a1a1a" stroke-width="1.8"/>
<line x1="1197.6" y1="298.39" x2="1192.6" y2="298.39" stroke="#1a1a1a" stroke-width="1.8"/>
<line x1="706.8" y1="271.58" x2="717.6" y2="271.58" stroke="#1a1a1a" stroke-width="1.8"/>
<line x1="1197.6" y1="271.58" x2="1186.8" y2="271.58" stroke="#1a1a1a" stroke-width="1.8"/>
<line x1="706.8" y1="244.77" x2="711.8" y2="244.77" stroke="#1a1a1a" stroke-width="1.8"/>
<line x1="1197.6" y1="244.77" x2="1192.6" y2="244.77" stroke="#1a1a1a" stroke-width="1.8"/>
<line x1="706.8" y1="217.96" x2="711.8" y2="217.96" stroke="#1a1a1a" stroke-width="1.8"/>
<line x1="1197.6" y1="217.96" x2="1192.6" y2="217.96" stroke="#1a1a1a" stroke-width="1.8"/>
<line x1="706.8" y1="191.15" x2="711.8" y2="191.15" stroke="#1a1a1a" stroke-width="1.8"/>
<line x1="1197.6" y1="191.15" x2="1192.6" y2="191.15" stroke="#1a1a1a" stroke-width="1.8"/>
<line x1="706.8" y1="164.34" x2="717.6" y2="164.34" stroke="#1a1a1a" stroke-width="1.8"/>
<line x1="1197.6" y1="164.34" x2="1186.8" y2="164.34" stroke="#1a1a1a" stroke-width="1.8"/>
<line x1="706.8" y1="137.53" x2="711.8" y2="137.53" stroke="#1a1a1a" stroke-width="1.8"/>
<line x1="1197.6" y1="137.53" x2="1192.6" y2="137.53" stroke="#1a1a1a" stroke-width="1.8"/>
<line x1="706.8" y1="110.72" x2="711.8" y2="110.72" stroke="#1a1a1a" stroke-width="1.8"/>
<line x1="1197.6" y1="110.72" x2="1192.6" y2="110.72" stroke="#1a1a1a" stroke-width="1.8"/>
<line x1="706.8" y1="83.91" x2="711.8" y2="83.91" stroke="#1a1a1a" stroke-width="1.8"/>
<line x1="1197.6" y1="83.91" x2="1192.6" y2="83.91" stroke="#1a1a1a" stroke-width="1.8"/>
<path d="M744.79,71.58 L870.91,65.62 M888.9,65.17 L1159.3,64.23 " fill="none" stroke="#202080" stroke-width="1.4"/>
<path d="M744.84,277.58 L871.06,232.02 M889.45,229.81 L1159.15,258.69 " fill="none" stroke="#2a2ad0" stroke-width="1.4"/>
<path d="M744.14,380.88 L871.61,419.22 M888.4,422.6 L1160.05,451.3 " fill="none" stroke="#b02040" stroke-width="1.4"/>
<path d="M744.99,578.89 L871.31,584.41 M889.3,584.82 L1159.3,585.58 " fill="none" stroke="#8a1a2a" stroke-width="1.4"/>
<path d="M728.1,75.93 L735.8,64.13 L743.5,75.93Z M872.2,69.13 L879.9,57.33 L887.6,69.13Z M1160.6,68.13 L1168.3,56.33 L1176,68.13Z" fill="#000080"/>
<g fill="#0000f0"><ellipse cx="735.9" cy="280.8" rx="6.5" ry="6.5"/><ellipse cx="880" cy="228.8" rx="6.5" ry="6.5"/><ellipse cx="1168.6" cy="259.7" rx="6.5" ry="6.5"/></g>
<path d="M735.9,369.4 L744.5,378.4 L735.9,387.4 L727.3,378.4Z M879.85,412.7 L888.45,421.7 L879.85,430.7 L871.25,421.7Z M1168.6,443.2 L1177.2,452.2 L1168.6,461.2 L1160,452.2Z" fill="#f00000"/>
<path d="M728.4,574.7 L736,586.1 L743.6,574.7Z M872.7,581 L880.3,592.4 L887.9,581Z M1160.7,581.8 L1168.3,593.2 L1175.9,581.8Z" fill="#8a0000"/>
<line x1="706.8" y1="56.1" x2="706.8" y2="594.3" stroke="#1a1a1a" stroke-width="2"/>
<line x1="1197.6" y1="56.1" x2="1197.6" y2="594.3" stroke="#1a1a1a" stroke-width="2"/>
<line x1="705.8" y1="57.1" x2="1198.6" y2="57.1" stroke="#1a1a1a" stroke-width="2"/>
<line x1="705.8" y1="593.3" x2="1198.6" y2="593.3" stroke="#1a1a1a" stroke-width="2"/>
<text transform="translate(652.46,601.2) scale(0.9632,1)" font-size="32" fill="#000">0.0</text>
<text transform="translate(652.85,493.96) scale(0.9632,1)" font-size="32" fill="#000">0.2</text>
<text transform="translate(652.15,386.72) scale(0.9632,1)" font-size="32" fill="#000">0.4</text>
<text transform="translate(652.62,279.48) scale(0.9632,1)" font-size="32" fill="#000">0.6</text>
<text transform="translate(652.62,172.24) scale(0.9632,1)" font-size="32" fill="#000">0.8</text>
<text transform="translate(652.46,65) scale(0.9632,1)" font-size="32" fill="#000">1.0</text>
<text transform="translate(726.62,627.9) scale(0.9632,1)" font-size="32" fill="#000">5</text>
<text transform="translate(861.84,627.9) scale(0.9632,1)" font-size="32" fill="#000">10</text>
<text transform="translate(1006.23,627.9) scale(0.9632,1)" font-size="32" fill="#000">15</text>
<text transform="translate(1150.93,627.9) scale(0.9632,1)" font-size="32" fill="#000">20</text>
<text transform="translate(847.08,669) scale(1.0216,1)" font-size="35.2" fill="#000">Energy (keV)</text>
<text transform="translate(638.6,436.99) rotate(-90) scale(1.0166,1)" font-size="35" fill="#000">Mass Fraction</text>
<text transform="translate(701.73,34) scale(1.0419,1)" font-size="35.6" fill="#000">(b)</text>
<text transform="translate(1034.37,100.5) scale(1.0080,1)" font-size="28.2" fill="#10107a">Si (after HF)</text>
<text transform="translate(1044.88,290.3) scale(1.0046,1)" font-size="28.2" fill="#0a0af0">Si (pristine)</text>
<text transform="translate(1039.11,424.8) scale(1.0037,1)" font-size="28.2" fill="#e0101e">O (prestine)</text>
<text transform="translate(1039.11,568.8) scale(1.0004,1)" font-size="28.2" fill="#800a18">O (after HF)</text>
</g>
<g id="pc">
<g clip-path="url(#clipC)">
<rect x="1304.2" y="58.4" width="308.6" height="239.8" fill="#f9f9f9"/>
<g filter="url(#blurC)">
<path d="M1431.6,58.6 C1427.88,61.13 1416.47,68.4 1409.3,73.8 C1402.13,79.2 1394.92,84.7 1388.6,91 C1382.28,97.3 1376.27,104.43 1371.4,111.6 C1366.53,118.77 1362.55,126.53 1359.4,134 C1356.25,141.47 1354.23,148.65 1352.5,156.4 C1350.77,164.15 1349.4,172.47 1349,180.5 C1348.6,188.53 1348.95,196.57 1350.1,204.6 C1351.25,212.63 1353.22,221.25 1355.9,228.7 C1358.58,236.15 1361.32,243 1366.2,249.3 C1371.08,255.6 1378.02,262.48 1385.2,266.5 C1392.38,270.52 1400.7,271.97 1409.3,273.4 C1417.9,274.83 1428.2,274.98 1436.8,275.1 C1445.4,275.22 1454.02,274.1 1460.9,274.1 C1467.78,274.1 1471.78,274.93 1478.1,275.1 C1484.42,275.27 1491.33,275.83 1498.8,275.1 C1506.27,274.37 1515.45,273.27 1522.9,270.7 C1530.35,268.13 1537.77,264.42 1543.5,259.7 C1549.23,254.98 1553.57,248.72 1557.3,242.4 C1561.03,236.08 1563.9,229.25 1565.9,221.8 C1567.9,214.35 1568.55,206.3 1569.3,197.7 C1570.05,189.1 1570.97,178.8 1570.4,170.2 C1569.83,161.6 1568.08,153.85 1565.9,146.1 C1563.72,138.35 1561.03,131.17 1557.3,123.7 C1553.57,116.23 1548.67,107.9 1543.5,101.3 C1538.33,94.7 1532.6,89.27 1526.3,84.1 C1520,78.93 1512.58,74.55 1505.7,70.3 C1498.82,66.05 1488.45,60.55 1485,58.6 Z" fill="#ebebeb"/>
<path d="M1449.5,61 C1448.82,62.55 1449.23,64.73 1445.4,70.3 C1441.57,75.87 1432.52,86.37 1426.5,94.4 C1420.48,102.43 1414.47,110.47 1409.3,118.5 C1404.13,126.53 1399.23,134.57 1395.5,142.6 C1391.77,150.63 1388.62,158.67 1386.9,166.7 C1385.18,174.73 1384.92,183.33 1385.2,190.8 C1385.48,198.27 1386.02,205.18 1388.6,211.5 C1391.18,217.82 1395.53,224.58 1400.7,228.7 C1405.87,232.82 1412.43,235.05 1419.6,236.2 C1426.77,237.35 1436.82,236 1443.7,235.6 C1450.58,235.2 1455.73,233.8 1460.9,233.8 C1466.07,233.8 1469.53,234.85 1474.7,235.6 C1479.87,236.35 1485.6,238.6 1491.9,238.3 C1498.2,238 1506.77,236.55 1512.5,233.8 C1518.23,231.05 1523.13,226.67 1526.3,221.8 C1529.47,216.93 1530.82,210.92 1531.5,204.6 C1532.18,198.28 1531.27,190.78 1530.4,183.9 C1529.53,177.02 1528.42,170.18 1526.3,163.3 C1524.18,156.42 1520.57,149.2 1517.7,142.6 C1514.83,136 1512.25,130 1509.1,123.7 C1505.95,117.4 1502.82,110.83 1498.8,104.8 C1494.78,98.77 1490.17,93.25 1485,87.5 C1479.83,81.75 1470.72,74.72 1467.8,70.3 C1464.88,65.88 1467.55,62.55 1467.5,61 Z" fill="#dedede"/>
<path d="M1453.11,81.7 C1452.69,82.78 1452.94,84.31 1450.57,88.21 C1448.19,92.11 1442.58,99.46 1438.85,105.08 C1435.12,110.7 1431.39,116.33 1428.19,121.95 C1424.98,127.57 1421.94,133.2 1419.63,138.82 C1417.32,144.44 1415.36,150.07 1414.3,155.69 C1413.23,161.31 1413.07,167.33 1413.24,172.56 C1413.42,177.79 1413.75,182.63 1415.35,187.05 C1416.95,191.47 1419.65,196.21 1422.85,199.09 C1426.06,201.97 1430.13,203.53 1434.57,204.34 C1439.02,205.14 1445.25,204.2 1449.51,203.92 C1453.78,203.64 1456.97,202.66 1460.18,202.66 C1463.38,202.66 1465.53,203.39 1468.73,203.92 C1471.94,204.44 1475.49,206.02 1479.4,205.81 C1483.3,205.6 1488.62,204.59 1492.17,202.66 C1495.72,200.73 1498.76,197.67 1500.73,194.26 C1502.69,190.85 1503.53,186.64 1503.95,182.22 C1504.37,177.8 1503.81,172.55 1503.27,167.73 C1502.73,162.91 1502.04,158.13 1500.73,153.31 C1499.41,148.49 1497.17,143.44 1495.39,138.82 C1493.62,134.2 1492.01,130 1490.06,125.59 C1488.11,121.18 1486.17,116.58 1483.68,112.36 C1481.19,108.14 1478.32,104.28 1475.12,100.25 C1471.92,96.22 1466.26,91.3 1464.46,88.21 C1462.65,85.12 1464.3,82.78 1464.27,81.7 Z" fill="#d6d6d6"/>
<path d="M1448.1,60 C1447.97,62.67 1447.75,70.58 1447.3,76 C1446.85,81.42 1446.43,87.07 1445.4,92.5 C1444.37,97.93 1442.43,103.85 1441.1,108.6 C1439.77,113.35 1438.33,116.87 1437.4,121 C1436.47,125.13 1435.92,129.27 1435.5,133.4 C1435.08,137.53 1434.9,141.88 1434.9,145.8 C1434.9,149.72 1434.98,153.92 1435.5,156.9 C1436.02,159.88 1436.65,162.25 1438,163.7 C1439.35,165.15 1441.63,165.6 1443.6,165.6 C1445.57,165.6 1447.73,164.32 1449.8,163.7 C1451.87,163.08 1453.93,162 1456,161.9 C1458.07,161.8 1460.13,162.58 1462.2,163.1 C1464.27,163.62 1466.13,164.68 1468.4,165 C1470.67,165.32 1473.95,165.52 1475.8,165 C1477.65,164.48 1478.47,164.07 1479.5,161.9 C1480.53,159.73 1481.48,155.72 1482,152 C1482.52,148.28 1482.7,143.73 1482.6,139.6 C1482.5,135.47 1482.02,131.33 1481.4,127.2 C1480.78,123.07 1479.93,118.93 1478.9,114.8 C1477.87,110.67 1476.43,106.22 1475.2,102.4 C1473.97,98.58 1472.53,96.3 1471.5,91.9 C1470.47,87.5 1469.65,81.32 1469,76 C1468.35,70.68 1467.83,62.67 1467.6,60 Z" fill="#c6c6c6"/>
</g>
<g filter="url(#blurC3)">
<path d="M1443,58 L1443,152 Q1459,164 1476,152 L1476,58Z" fill="#aaaaaa"/>
<path d="M1446,58 L1446,132 Q1459,142 1472,132 L1472,58Z" fill="#8e8e8e"/>
</g>
<g filter="url(#blurC2)">
<path d="M1451,58 L1451,100 Q1452,117 1458.5,119 Q1465,117 1466,100 L1466,58Z" fill="#555555"/>
<path d="M1452,58 L1452,95 Q1453,103 1458.5,103 Q1464,103 1465,95 L1465,58Z" fill="#141428"/>
<path d="M1452.5,58 L1452.5,88 L1464.5,88 L1464.5,58Z" fill="#050508"/>
</g>
<path d="M1431.6,58.6 L1430.56,59.19 L1429.63,60.45 L1428.02,61.15 L1426.61,62.51 L1424.54,63.2 L1422.85,64.7 L1420.62,65.56 L1418.85,67.23 L1416.6,68.22 L1414.89,69.98 L1412.97,71.35 L1411.35,72.97 L1409.25,73.73 L1407.69,75.1 L1406.01,76.32 L1404.6,77.9 L1402.82,78.99 L1401.09,80.15 L1399.5,81.48 L1397.75,82.62 L1396.11,83.9 L1394.32,85.01 L1392.8,86.41 L1391.48,88.04 L1390.06,89.55 L1388.85,91.25 L1387.34,92.65 L1385.81,94.06 L1384.35,95.54 L1382.96,97.1 L1381.76,98.83 L1380.42,100.43 L1379.13,102.06 L1377.72,103.58 L1376.48,105.24 L1375.09,106.76 L1373.6,108.21 L1372.11,109.64 L1371.03,111.35 L1370.26,113.44 L1369.35,115.42 L1367.9,117.07 L1366.65,118.83 L1365.58,120.7 L1364.83,122.72 L1363.48,124.43 L1362.4,126.25 L1361.41,128.12 L1360.86,130.16 L1360.1,132.08 L1359.62,134.09 L1358.91,136.17 L1358.11,138.17 L1357.05,140.06 L1356.14,142 L1355.28,143.95 L1354.72,145.99 L1354.14,148.02 L1353.92,150.15 L1353.21,152.16 L1352.78,154.25 L1352.21,156.34 L1351.94,158.32 L1351.64,160.31 L1350.97,162.25 L1350.4,164.22 L1349.61,166.16 L1349.79,168.28 L1350.09,170.39 L1350.36,172.48 L1349.83,174.47 L1349.17,176.45 L1348.85,178.47 L1349.17,180.51 L1349.32,182.52 L1349.16,184.52 L1348.69,186.52 L1348.49,188.54 L1348.74,190.55 L1348.9,192.55 L1349.12,194.56 L1349.14,196.57 L1349.23,198.59 L1349.45,200.6 L1349.9,202.58 L1350.13,204.6 L1350.44,206.61 L1350.42,208.71 L1350.63,210.8 L1351.03,212.86 L1351.76,214.86 L1352.59,216.83 L1353.04,218.88 L1353.49,220.92 L1353.99,222.93 L1354.66,224.87 L1355.42,226.76 L1355.88,228.71 L1356.7,230.69 L1357.11,232.81 L1357.93,234.75 L1358.54,236.77 L1359.81,238.48 L1360.74,240.33 L1361.66,242.19 L1362.65,244.02 L1363.82,245.76 L1365.11,247.43 L1366.46,249.1 L1367.62,250.76 L1368.84,252.45 L1370.17,254.12 L1371.65,255.71 L1373.5,256.97 L1374.97,258.61 L1376.87,259.79 L1378.23,261.57 L1379.9,262.99 L1381.47,264.52 L1383.45,265.37 L1385.15,266.58 L1386.8,267.89 L1388.77,268.56 L1390.69,269.32 L1392.67,269.95 L1394.53,270.98 L1396.68,271.07 L1398.76,271.42 L1400.85,271.77 L1402.91,272.3 L1405.1,272.27 L1407.2,272.79 L1409.3,273.42 L1411.29,273.85 L1413.36,274.11 L1415.51,273.95 L1417.62,274.43 L1419.79,274.5 L1421.95,274.82 L1424.14,274.75 L1426.31,275 L1428.47,275.25 L1430.61,275.43 L1432.72,275.32 L1434.78,275.22 L1436.8,275.27 L1438.95,275.29 L1441.1,275.37 L1443.23,275.11 L1445.32,274.48 L1447.41,274.43 L1449.5,274.8 L1451.57,275.24 L1453.53,274.89 L1455.44,274.31 L1457.32,274.11 L1459.14,274.07 L1460.9,273.86 L1463.37,273.81 L1465.63,273.71 L1467.72,274.12 L1469.73,274.33 L1471.69,274.8 L1473.72,274.88 L1475.82,275.27 L1478.09,275.3 L1479.99,275.84 L1481.96,275.34 L1483.95,275.24 L1485.97,275.05 L1488.01,275.99 L1490.1,276.1 L1492.24,275.92 L1494.38,275.31 L1496.59,275.51 L1498.81,275.26 L1500.74,275.25 L1502.66,274.71 L1504.65,274.28 L1506.68,273.95 L1508.76,273.82 L1510.93,274 L1513,273.56 L1515.02,272.93 L1517.03,272.34 L1519.06,271.9 L1521.07,271.52 L1522.93,270.78 L1525.03,270.23 L1527.06,269.46 L1529.23,268.98 L1531.22,268.06 L1533.22,267.16 L1534.81,265.52 L1536.62,264.38 L1538.4,263.23 L1540.42,262.47 L1542.17,261.33 L1543.69,259.92 L1545.23,258.59 L1546.47,256.96 L1548.22,255.83 L1549.25,254.02 L1550.35,252.31 L1551,250.27 L1552.25,248.7 L1553.49,247.12 L1555.19,245.83 L1556.35,244.17 L1557.35,242.43 L1558.2,240.61 L1559.11,238.83 L1560.03,237.05 L1560.86,235.22 L1561.9,233.48 L1562.83,231.67 L1563.67,229.8 L1564.28,227.83 L1565.32,226 L1565.76,223.94 L1566.61,221.99 L1566.8,220.03 L1566.88,218.04 L1567.43,216.15 L1567.64,214.17 L1568.14,212.23 L1567.78,210.15 L1568.09,208.14 L1568.4,206.1 L1568.78,204.05 L1569.15,201.97 L1569.64,199.88 L1569.76,197.74 L1569.56,195.69 L1569.15,193.58 L1569.21,191.47 L1569.29,189.33 L1569.84,187.2 L1570.01,185.02 L1570.4,182.86 L1570.33,180.68 L1570.21,178.52 L1570.12,176.38 L1570.25,174.28 L1570.59,172.21 L1570.57,170.19 L1570.63,168.03 L1570.03,165.97 L1569.8,163.89 L1569.09,161.91 L1568.47,159.95 L1568.54,157.87 L1568.25,155.87 L1568.16,153.82 L1567.71,151.86 L1567.26,149.9 L1567.03,147.88 L1565.98,146.08 L1565.28,144 L1564.27,142.05 L1563.87,139.91 L1563.08,137.9 L1562.67,135.76 L1561.97,133.72 L1561.28,131.65 L1560.45,129.62 L1559.39,127.68 L1558.26,125.75 L1557.37,123.67 L1556.71,121.81 L1556.05,119.91 L1555.1,118.12 L1553.68,116.56 L1552.38,114.93 L1550.93,113.39 L1550.21,111.4 L1549.21,109.59 L1548.56,107.55 L1547.08,106.07 L1545.89,104.44 L1544.51,102.99 L1543.59,101.23 L1542.36,99.54 L1541.05,97.94 L1539.56,96.52 L1538.2,95 L1536.61,93.72 L1535.2,92.28 L1533.71,90.94 L1532.39,89.41 L1530.95,88 L1529.37,86.75 L1527.83,85.44 L1526.17,84.26 L1524.71,82.82 L1523.17,81.43 L1521.42,80.32 L1519.74,79.1 L1518.15,77.72 L1516.35,76.66 L1514.44,75.77 L1512.36,75.16 L1510.73,73.86 L1509.23,72.36 L1507.57,71.13 L1505.8,70.14 L1503.74,69.12 L1501.59,68 L1499.62,66.44 L1497.39,65.25 L1495.41,63.69 L1493.11,62.83 L1491.37,61.25 L1489.46,60.33 L1487.94,59.2 L1486.24,58.97 L1485,58.6" fill="none" stroke="#36e4f0" stroke-width="2.2" stroke-linejoin="round"/>
<path d="M1449.5,61 C1448.82,62.55 1449.23,64.73 1445.4,70.3 C1441.57,75.87 1432.52,86.37 1426.5,94.4 C1420.48,102.43 1414.47,110.47 1409.3,118.5 C1404.13,126.53 1399.23,134.57 1395.5,142.6 C1391.77,150.63 1388.62,158.67 1386.9,166.7 C1385.18,174.73 1384.92,183.33 1385.2,190.8 C1385.48,198.27 1386.02,205.18 1388.6,211.5 C1391.18,217.82 1395.53,224.58 1400.7,228.7 C1405.87,232.82 1412.43,235.05 1419.6,236.2 C1426.77,237.35 1436.82,236 1443.7,235.6 C1450.58,235.2 1455.73,233.8 1460.9,233.8 C1466.07,233.8 1469.53,234.85 1474.7,235.6 C1479.87,236.35 1485.6,238.6 1491.9,238.3 C1498.2,238 1506.77,236.55 1512.5,233.8 C1518.23,231.05 1523.13,226.67 1526.3,221.8 C1529.47,216.93 1530.82,210.92 1531.5,204.6 C1532.18,198.28 1531.27,190.78 1530.4,183.9 C1529.53,177.02 1528.42,170.18 1526.3,163.3 C1524.18,156.42 1520.57,149.2 1517.7,142.6 C1514.83,136 1512.25,130 1509.1,123.7 C1505.95,117.4 1502.82,110.83 1498.8,104.8 C1494.78,98.77 1490.17,93.25 1485,87.5 C1479.83,81.75 1470.72,74.72 1467.8,70.3 C1464.88,65.88 1467.55,62.55 1467.5,61" fill="none" stroke="#111" stroke-width="2.5" stroke-dasharray="7,5"/>
<path d="M1448.1,60 C1447.97,62.67 1447.75,70.58 1447.3,76 C1446.85,81.42 1446.43,87.07 1445.4,92.5 C1444.37,97.93 1442.43,103.85 1441.1,108.6 C1439.77,113.35 1438.33,116.87 1437.4,121 C1436.47,125.13 1435.92,129.27 1435.5,133.4 C1435.08,137.53 1434.9,141.88 1434.9,145.8 C1434.9,149.72 1434.98,153.92 1435.5,156.9 C1436.02,159.88 1436.65,162.25 1438,163.7 C1439.35,165.15 1441.63,165.6 1443.6,165.6 C1445.57,165.6 1447.73,164.32 1449.8,163.7 C1451.87,163.08 1453.93,162 1456,161.9 C1458.07,161.8 1460.13,162.58 1462.2,163.1 C1464.27,163.62 1466.13,164.68 1468.4,165 C1470.67,165.32 1473.95,165.52 1475.8,165 C1477.65,164.48 1478.47,164.07 1479.5,161.9 C1480.53,159.73 1481.48,155.72 1482,152 C1482.52,148.28 1482.7,143.73 1482.6,139.6 C1482.5,135.47 1482.02,131.33 1481.4,127.2 C1480.78,123.07 1479.93,118.93 1478.9,114.8 C1477.87,110.67 1476.43,106.22 1475.2,102.4 C1473.97,98.58 1472.53,96.3 1471.5,91.9 C1470.47,87.5 1469.65,81.32 1469,76 C1468.35,70.68 1467.83,62.67 1467.6,60" fill="none" stroke="#f0202a" stroke-width="2" stroke-dasharray="1.6,1.6"/>
<path d="M1451,59 L1451,100 Q1452,118 1458.5,120 Q1465,118 1466,100 L1466,59" fill="none" stroke="#22ee22" stroke-width="2.4"/>
<path d="M1452.8,59 L1452.8,92 Q1453.2,99 1458.5,99 Q1463.8,99 1464.2,92 L1464.2,59" fill="none" stroke="#2020c0" stroke-width="1.5"/>
<path d="M1455.5,64 L1455.5,86 L1462,86 L1462,64Z" fill="none" stroke="#e050e0" stroke-width="1.2" stroke-dasharray="3,2"/>
</g>
<rect x="1304.2" y="58.4" width="308.6" height="239.8" fill="none" stroke="#6a6a6a" stroke-width="1.6"/>
<line x1="1342.78" y1="58.4" x2="1342.78" y2="60.9" stroke="#6a6a6a" stroke-width="1"/>
<line x1="1342.78" y1="298.2" x2="1342.78" y2="295.7" stroke="#6a6a6a" stroke-width="1"/>
<line x1="1381.35" y1="58.4" x2="1381.35" y2="60.9" stroke="#6a6a6a" stroke-width="1"/>
<line x1="1381.35" y1="298.2" x2="1381.35" y2="295.7" stroke="#6a6a6a" stroke-width="1"/>
<line x1="1419.92" y1="58.4" x2="1419.92" y2="60.9" stroke="#6a6a6a" stroke-width="1"/>
<line x1="1419.92" y1="298.2" x2="1419.92" y2="295.7" stroke="#6a6a6a" stroke-width="1"/>
<line x1="1458.5" y1="58.4" x2="1458.5" y2="60.9" stroke="#6a6a6a" stroke-width="1"/>
<line x1="1458.5" y1="298.2" x2="1458.5" y2="295.7" stroke="#6a6a6a" stroke-width="1"/>
<line x1="1497.08" y1="58.4" x2="1497.08" y2="60.9" stroke="#6a6a6a" stroke-width="1"/>
<line x1="1497.08" y1="298.2" x2="1497.08" y2="295.7" stroke="#6a6a6a" stroke-width="1"/>
<line x1="1535.65" y1="58.4" x2="1535.65" y2="60.9" stroke="#6a6a6a" stroke-width="1"/>
<line x1="1535.65" y1="298.2" x2="1535.65" y2="295.7" stroke="#6a6a6a" stroke-width="1"/>
<line x1="1574.22" y1="58.4" x2="1574.22" y2="60.9" stroke="#6a6a6a" stroke-width="1"/>
<line x1="1574.22" y1="298.2" x2="1574.22" y2="295.7" stroke="#6a6a6a" stroke-width="1"/>
<line x1="1304.2" y1="98.37" x2="1306.7" y2="98.37" stroke="#6a6a6a" stroke-width="1"/>
<line x1="1612.8" y1="98.37" x2="1610.3" y2="98.37" stroke="#6a6a6a" stroke-width="1"/>
<line x1="1304.2" y1="138.33" x2="1306.7" y2="138.33" stroke="#6a6a6a" stroke-width="1"/>
<line x1="1612.8" y1="138.33" x2="1610.3" y2="138.33" stroke="#6a6a6a" stroke-width="1"/>
<line x1="1304.2" y1="178.3" x2="1306.7" y2="178.3" stroke="#6a6a6a" stroke-width="1"/>
<line x1="1612.8" y1="178.3" x2="1610.3" y2="178.3" stroke="#6a6a6a" stroke-width="1"/>
<line x1="1304.2" y1="218.27" x2="1306.7" y2="218.27" stroke="#6a6a6a" stroke-width="1"/>
<line x1="1612.8" y1="218.27" x2="1610.3" y2="218.27" stroke="#6a6a6a" stroke-width="1"/>
<line x1="1304.2" y1="258.23" x2="1306.7" y2="258.23" stroke="#6a6a6a" stroke-width="1"/>
<line x1="1612.8" y1="258.23" x2="1610.3" y2="258.23" stroke="#6a6a6a" stroke-width="1"/>
<text transform="translate(1270.4,67.8) scale(0.9134,1)" font-size="27.6" fill="#000">0</text>
<text transform="translate(1242.36,148.4) scale(0.9134,1)" font-size="27.6" fill="#000">100</text>
<text transform="translate(1242.36,228.6) scale(0.9134,1)" font-size="27.6" fill="#000">200</text>
<text transform="translate(1242.36,301.4) scale(0.9134,1)" font-size="27.6" fill="#000">300</text>
<text transform="translate(1284.32,326.6) scale(0.9134,1)" font-size="27.6" fill="#000">-200</text>
<text transform="translate(1363.92,326.6) scale(0.9134,1)" font-size="27.6" fill="#000">-100</text>
<text transform="translate(1454.24,326.6) scale(0.9134,1)" font-size="27.6" fill="#000">0</text>
<text transform="translate(1510.16,326.6) scale(0.9134,1)" font-size="27.6" fill="#000">100</text>
<text transform="translate(1588.26,326.6) scale(0.9339,1)" font-size="27.6" fill="#000">200 (unit: nm)</text>
<text transform="translate(1223.19,35.4) scale(1.0740,1)" font-size="35.1" fill="#000">(c)</text>
<path d="M1455.4,17 L1460.6,17 L1460.6,36.5 L1466.4,36.5 L1457.9,54 L1449.4,36.5 L1455.4,36.5Z" fill="#c4000e"/>
<text transform="translate(1472.43,38.9) scale(0.9477,1)" font-size="27" fill="#ac0c2c">5 keV e-beam</text>
<text transform="translate(1633.66,81.8) scale(0.9331,1)" font-size="27.4" fill="#000">energy loss</text>
<line x1="1650.3" y1="100.5" x2="1686.4" y2="100.5" stroke="#22e0ea" stroke-width="3.4"/>
<path d="M1650.3,133.1 h11.4 M1674,133.1 h11.4" stroke="#111" stroke-width="3.6"/>
<line x1="1650.3" y1="166.8" x2="1686.4" y2="166.8" stroke="#f0202a" stroke-width="3" stroke-dasharray="2.2,2.4"/>
<path d="M1650.2,199.8 h10.8 M1664.4,199.8 h5 M1673.6,199.8 h11.8" stroke="#20e020" stroke-width="3.6"/>
<line x1="1650.2" y1="232.8" x2="1686.2" y2="232.8" stroke="#2424d8" stroke-width="2"/>
<path d="M1650.2,266.0 h14.2 M1673.6,266.0 h12.6" stroke="#ee82ee" stroke-width="3.4"/>
<text transform="translate(1694.76,109) scale(0.9519,1)" font-size="21.8" fill="#000">95 %</text>
<text transform="translate(1694.76,142.5) scale(0.9519,1)" font-size="21.8" fill="#000">90 %</text>
<text transform="translate(1694.71,176) scale(0.9519,1)" font-size="21.8" fill="#000">75 %</text>
<text transform="translate(1694.92,209.5) scale(0.9519,1)" font-size="21.8" fill="#000">50 %</text>
<text transform="translate(1694.71,243) scale(0.9519,1)" font-size="21.8" fill="#000">25 %</text>
<text transform="translate(1694.92,276.5) scale(0.9519,1)" font-size="21.8" fill="#000">5 %</text>
</g>
<g id="pd">
<path d="M1307.4,597.0 L1307.4,471.06 L1308.4,468.66 L1309.4,465.81 L1310.4,463.89 L1311.4,462.38 L1312.4,460.38 L1313.4,457.07 L1314.4,454.84 L1315.4,452.86 L1316.4,451.77 L1317.4,449.86 L1318.4,448.97 L1319.4,447.83 L1320.4,446.07 L1321.4,445.26 L1322.4,443.86 L1323.4,441.91 L1324.4,441.29 L1325.4,439.64 L1326.4,438.51 L1327.4,437 L1328.4,436.13 L1329.4,434.45 L1330.4,432.74 L1331.4,431.81 L1332.4,430.69 L1333.4,428.69 L1334.4,427.1 L1335.4,425.8 L1336.4,425.02 L1337.4,423.68 L1338.4,421.95 L1339.4,420.87 L1340.4,419.48 L1341.4,417.64 L1342.4,416.05 L1343.4,415.53 L1344.4,414.28 L1345.4,412.95 L1346.4,411.74 L1347.4,410.94 L1348.4,410.02 L1349.4,408.79 L1350.4,407.84 L1351.4,407.05 L1352.4,406.54 L1353.4,405.22 L1354.4,403.87 L1355.4,402.9 L1356.4,402.18 L1357.4,401 L1358.4,400.16 L1359.4,399.74 L1360.4,398.44 L1361.4,398.16 L1362.4,397.29 L1363.4,397.03 L1364.4,396.46 L1365.4,395.83 L1366.4,395.32 L1367.4,394.45 L1368.4,394.33 L1369.4,393.49 L1370.4,393.38 L1371.4,392.75 L1372.4,392.63 L1373.4,391.99 L1374.4,392.04 L1375.4,392.75 L1376.4,391.71 L1377.4,392.13 L1378.4,391.96 L1379.4,391.95 L1380.4,391.57 L1381.4,391.66 L1382.4,390.99 L1383.4,390.99 L1384.4,391.17 L1385.4,391.18 L1386.4,391.22 L1387.4,391.38 L1388.4,392.03 L1389.4,391.76 L1390.4,392.86 L1391.4,392.73 L1392.4,392.76 L1393.4,393.17 L1394.4,392.88 L1395.4,393.97 L1396.4,394.21 L1397.4,394.46 L1398.4,394.59 L1399.4,395.47 L1400.4,395.82 L1401.4,396.2 L1402.4,397 L1403.4,397.19 L1404.4,397.44 L1405.4,398.27 L1406.4,398.48 L1407.4,399.15 L1408.4,400.49 L1409.4,401.28 L1410.4,402.24 L1411.4,402.86 L1412.4,403.3 L1413.4,403.6 L1414.4,404.96 L1415.4,406.4 L1416.4,407.17 L1417.4,407.76 L1418.4,408.68 L1419.4,409.36 L1420.4,410.29 L1421.4,411.17 L1422.4,413.17 L1423.4,413.91 L1424.4,414.36 L1425.4,415.76 L1426.4,416.4 L1427.4,417.68 L1428.4,419.4 L1429.4,420.4 L1430.4,421.31 L1431.4,422.2 L1432.4,423.79 L1433.4,425.31 L1434.4,425.84 L1435.4,426.58 L1436.4,427.75 L1437.4,428.98 L1438.4,431.25 L1439.4,431.97 L1440.4,433.57 L1441.4,434.03 L1442.4,435.4 L1443.4,437.19 L1444.4,438.71 L1445.4,439.33 L1446.4,440.28 L1447.4,442.52 L1448.4,443.13 L1449.4,444.98 L1450.4,445.58 L1451.4,447.54 L1452.4,449.04 L1453.4,450.22 L1454.4,451.1 L1455.4,452.86 L1456.4,453.48 L1457.4,455 L1458.4,456.45 L1459.4,458.33 L1460.4,458.79 L1461.4,461 L1462.4,462.26 L1463.4,463.83 L1464.4,464.48 L1465.4,465.69 L1466.4,467.14 L1467.4,469.28 L1468.4,470.89 L1469.4,472.03 L1470.4,473.23 L1471.4,474.47 L1472.4,476.61 L1473.4,478.13 L1474.4,478.68 L1475.4,480.31 L1476.4,482.52 L1477.4,484.01 L1478.4,484.84 L1479.4,486.28 L1480.4,487.94 L1481.4,489.55 L1482.4,490.5 L1483.4,492.87 L1484.4,493.99 L1485.4,495.76 L1486.4,496.58 L1487.4,498.94 L1488.4,500.15 L1489.4,501.12 L1490.4,503.3 L1491.4,504.46 L1492.4,506.09 L1493.4,506.59 L1494.4,508.05 L1495.4,510.32 L1496.4,511.24 L1497.4,512.93 L1498.4,513.93 L1499.4,516.35 L1500.4,517.19 L1501.4,518.99 L1502.4,519.49 L1503.4,521.37 L1504.4,522.27 L1505.4,524.66 L1506.4,525.52 L1507.4,526.45 L1508.4,527.84 L1509.4,529.76 L1510.4,530.56 L1511.4,532.03 L1512.4,533.65 L1513.4,535.04 L1514.4,536.43 L1515.4,537.75 L1516.4,538.72 L1517.4,540.28 L1518.4,540.98 L1519.4,542.36 L1520.4,544.21 L1521.4,544.65 L1522.4,545.93 L1523.4,547.13 L1524.4,548.58 L1525.4,549.15 L1526.4,550.3 L1527.4,551.92 L1528.4,552.66 L1529.4,554.36 L1530.4,555.57 L1531.4,556.36 L1532.4,557.55 L1533.4,558.21 L1534.4,558.8 L1535.4,560.26 L1536.4,561.14 L1537.4,562.36 L1538.4,562.73 L1539.4,563.74 L1540.4,565.33 L1541.4,565.54 L1542.4,566.56 L1543.4,568.03 L1544.4,568.06 L1545.4,568.72 L1546.4,570.17 L1547.4,570.79 L1548.4,571.6 L1549.4,571.65 L1550.4,572.83 L1551.4,573.04 L1552.4,574.02 L1553.4,575.25 L1554.4,575.14 L1555.4,576.07 L1556.4,577.55 L1557.4,578.16 L1558.4,578.18 L1559.4,579.09 L1560.4,579.55 L1561.4,579.92 L1562.4,580.94 L1563.4,580.65 L1564.4,581.95 L1565.4,581.51 L1566.4,582.99 L1567.4,583.25 L1568.4,583.44 L1569.4,584.17 L1570.4,584.36 L1571.4,585.18 L1572.4,584.8 L1573.4,585.69 L1574.4,586.52 L1575.4,586.98 L1576.4,586.5 L1577.4,586.9 L1578.4,588.04 L1579.4,587.71 L1580.4,587.7 L1581.4,588.82 L1582.4,588.78 L1583.4,589.47 L1584.4,589.46 L1585.4,589.79 L1586.4,589.97 L1587.4,590.1 L1588.4,591.1 L1589.4,591.09 L1590.4,591.49 L1591.4,591.87 L1592.4,591.34 L1593.4,592.39 L1594.4,592.56 L1595.4,592.36 L1596.4,592.65 L1597.4,592.33 L1598.4,593.31 L1599.4,592.8 L1600.4,593.43 L1601.4,593.12 L1602.4,593.24 L1603.4,594.06 L1604.4,594.1 L1605.4,594.27 L1606.4,594.43 L1607.4,594.59 L1608.4,594.74 L1609.4,594.89 L1610.4,595.03 L1611.4,595.16 L1612.4,595.28 L1613.4,595.4 L1614.4,595.51 L1615.4,595.62 L1616.4,595.73 L1617.4,595.83 L1618.4,595.93 L1619.4,596.03 L1620.4,596.12 L1621.4,596.21 L1622.4,596.3 L1623.4,596.38 L1624.4,596.45 L1625.4,596.53 L1626.4,596.59 L1627.4,596.65 L1628.4,596.71 L1629.4,596.75 L1630.4,596.8 L1631.4,596.85 L1632.4,596.89 L1633.4,596.93 L1634.4,596.97 L1635.4,597 L1636.4,597 L1637.4,597 L1638.4,597 L1639.4,597 L1640.4,597 L1641.4,597 L1642.4,597 L1643.4,597 L1644.4,597 L1645.4,597 L1646.4,597 L1647.4,597 L1648.4,597 L1649.4,597 L1650.4,597 L1651.4,597 L1652,597.0Z" fill="#4ebcee"/>
<rect x="1307.4" y="365.5" width="395.8" height="231.5" fill="none" stroke="#7a7a7a" stroke-width="1.4"/>
<line x1="1422.25" y1="597" x2="1422.25" y2="588" stroke="#111" stroke-width="1.8"/>
<line x1="1535.5" y1="597" x2="1535.5" y2="588" stroke="#111" stroke-width="1.8"/>
<line x1="1648.75" y1="597" x2="1648.75" y2="588" stroke="#111" stroke-width="1.8"/>
<line x1="1365.62" y1="597" x2="1365.62" y2="594" stroke="#333" stroke-width="1"/>
<line x1="1478.88" y1="597" x2="1478.88" y2="594" stroke="#333" stroke-width="1"/>
<line x1="1592.12" y1="597" x2="1592.12" y2="594" stroke="#333" stroke-width="1"/>
<line x1="1365.62" y1="365.5" x2="1365.62" y2="368.5" stroke="#7a7a7a" stroke-width="1"/>
<line x1="1422.25" y1="365.5" x2="1422.25" y2="368.5" stroke="#7a7a7a" stroke-width="1"/>
<line x1="1478.88" y1="365.5" x2="1478.88" y2="368.5" stroke="#7a7a7a" stroke-width="1"/>
<line x1="1535.5" y1="365.5" x2="1535.5" y2="368.5" stroke="#7a7a7a" stroke-width="1"/>
<line x1="1592.12" y1="365.5" x2="1592.12" y2="368.5" stroke="#7a7a7a" stroke-width="1"/>
<line x1="1648.75" y1="365.5" x2="1648.75" y2="368.5" stroke="#7a7a7a" stroke-width="1"/>
<line x1="1307.4" y1="500.4" x2="1319.4" y2="500.4" stroke="#111" stroke-width="1.8"/>
<line x1="1307.4" y1="403.8" x2="1319.4" y2="403.8" stroke="#111" stroke-width="1.8"/>
<line x1="1307.4" y1="577.68" x2="1310.4" y2="577.68" stroke="#7a7a7a" stroke-width="1"/>
<line x1="1307.4" y1="558.36" x2="1310.4" y2="558.36" stroke="#7a7a7a" stroke-width="1"/>
<line x1="1307.4" y1="539.04" x2="1310.4" y2="539.04" stroke="#7a7a7a" stroke-width="1"/>
<line x1="1307.4" y1="519.72" x2="1310.4" y2="519.72" stroke="#7a7a7a" stroke-width="1"/>
<line x1="1307.4" y1="481.08" x2="1310.4" y2="481.08" stroke="#7a7a7a" stroke-width="1"/>
<line x1="1307.4" y1="461.76" x2="1310.4" y2="461.76" stroke="#7a7a7a" stroke-width="1"/>
<line x1="1307.4" y1="442.44" x2="1310.4" y2="442.44" stroke="#7a7a7a" stroke-width="1"/>
<line x1="1307.4" y1="423.12" x2="1310.4" y2="423.12" stroke="#7a7a7a" stroke-width="1"/>
<line x1="1307.4" y1="384.48" x2="1310.4" y2="384.48" stroke="#7a7a7a" stroke-width="1"/>
<line x1="1703.2" y1="577.68" x2="1700.2" y2="577.68" stroke="#7a7a7a" stroke-width="1"/>
<line x1="1703.2" y1="558.36" x2="1700.2" y2="558.36" stroke="#7a7a7a" stroke-width="1"/>
<line x1="1703.2" y1="539.04" x2="1700.2" y2="539.04" stroke="#7a7a7a" stroke-width="1"/>
<line x1="1703.2" y1="519.72" x2="1700.2" y2="519.72" stroke="#7a7a7a" stroke-width="1"/>
<line x1="1703.2" y1="500.4" x2="1700.2" y2="500.4" stroke="#7a7a7a" stroke-width="1"/>
<line x1="1703.2" y1="481.08" x2="1700.2" y2="481.08" stroke="#7a7a7a" stroke-width="1"/>
<line x1="1703.2" y1="461.76" x2="1700.2" y2="461.76" stroke="#7a7a7a" stroke-width="1"/>
<line x1="1703.2" y1="442.44" x2="1700.2" y2="442.44" stroke="#7a7a7a" stroke-width="1"/>
<line x1="1703.2" y1="423.12" x2="1700.2" y2="423.12" stroke="#7a7a7a" stroke-width="1"/>
<line x1="1703.2" y1="403.8" x2="1700.2" y2="403.8" stroke="#7a7a7a" stroke-width="1"/>
<line x1="1703.2" y1="384.48" x2="1700.2" y2="384.48" stroke="#7a7a7a" stroke-width="1"/>
<text transform="translate(1283.74,412.9) scale(0.9980,1)" font-size="28" fill="#000">2</text>
<text transform="translate(1282.17,506.4) scale(0.9980,1)" font-size="28" fill="#000">1</text>
<text transform="translate(1283.29,600.7) scale(0.9980,1)" font-size="28" fill="#000">0</text>
<text transform="translate(1303.54,622.5) scale(0.9980,1)" font-size="27.8" fill="#000">0</text>
<text transform="translate(1397.83,622.5) scale(0.9980,1)" font-size="27.8" fill="#000">400</text>
<text transform="translate(1511.27,622.5) scale(0.9980,1)" font-size="27.8" fill="#000">800</text>
<text transform="translate(1624.47,622.5) scale(0.9980,1)" font-size="27.8" fill="#000">1200</text>
<text transform="translate(1429.68,670.8) scale(1.0156,1)" font-size="33" fill="#000">Depth (nm)</text>
<text transform="translate(1264.3,606.52) rotate(-90) scale(0.9819,1)" font-size="33.8" fill="#000">Intensity (a. u.)</text>
<text transform="translate(1585.68,409.1) scale(0.9473,1)" font-size="32" fill="#000">10 keV</text>
<text transform="translate(1230.74,360.4) scale(1.0393,1)" font-size="35.6" fill="#000">(d)</text>
</g>
</svg></body></html>
